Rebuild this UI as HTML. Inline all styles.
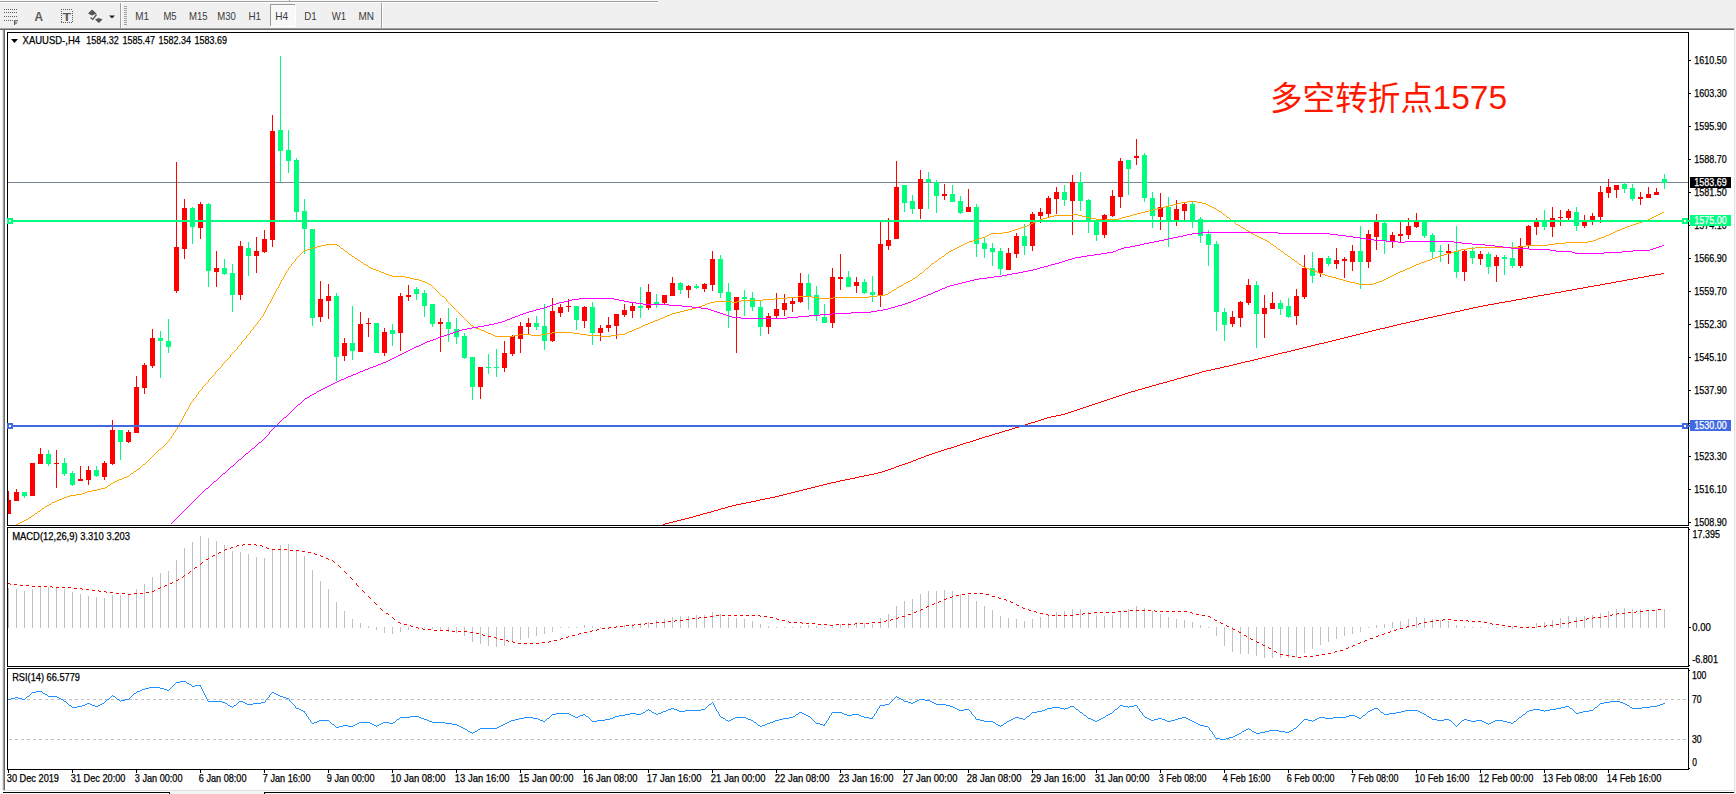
<!DOCTYPE html>
<html lang="zh"><head><meta charset="utf-8"><title>XAUUSD-,H4</title>
<style>html,body{margin:0;padding:0;background:#fff;}body{width:1736px;height:794px;overflow:hidden;}svg{display:block;}text{font-family:"Liberation Sans",sans-serif;}.cjk{font-family:"Liberation Sans","Noto Sans CJK SC",sans-serif;}</style>
</head><body>
<svg width="1736" height="794" viewBox="0 0 1736 794">
<rect x="0" y="0" width="1736" height="794" fill="#ffffff"/>
<g shape-rendering="crispEdges">
<rect x="0" y="0" width="1736" height="28" fill="#f0f0f0"/>
<rect x="0" y="1" width="658" height="1" fill="#a0a0a0"/>
<rect x="0" y="2" width="658" height="1" fill="#ffffff"/><rect x="0" y="0" width="658" height="1" fill="#f8f8f8"/>
<rect x="289" y="0" width="1" height="2" fill="#a0a0a0"/><rect x="290" y="0" width="1" height="1" fill="#ffffff"/>
<rect x="0" y="28" width="1734" height="1" fill="#a0a0a0"/>
<rect x="0" y="29" width="1734" height="1" fill="#696969"/>
<rect x="1734" y="28" width="1" height="766" fill="#e2e2e2"/><rect x="1735" y="28" width="1" height="766" fill="#f4f4f4"/>
<rect x="0" y="30" width="2" height="764" fill="#fefefe"/>
<rect x="2" y="30" width="1" height="760" fill="#e6e6e6"/>
<rect x="3" y="30" width="1" height="761" fill="#a0a0a0"/>
<rect x="4" y="30" width="1" height="761" fill="#696969"/>
<rect x="120" y="3" width="1" height="25" fill="#a0a0a0"/><rect x="121" y="3" width="1" height="25" fill="#ffffff"/>
<rect x="381" y="3" width="1" height="25" fill="#a0a0a0"/><rect x="382" y="3" width="1" height="25" fill="#ffffff"/>
<rect x="124" y="6" width="3" height="1" fill="#a0a0a0"/>
<rect x="124" y="8" width="3" height="1" fill="#a0a0a0"/>
<rect x="124" y="10" width="3" height="1" fill="#a0a0a0"/>
<rect x="124" y="12" width="3" height="1" fill="#a0a0a0"/>
<rect x="124" y="14" width="3" height="1" fill="#a0a0a0"/>
<rect x="124" y="16" width="3" height="1" fill="#a0a0a0"/>
<rect x="124" y="18" width="3" height="1" fill="#a0a0a0"/>
<rect x="124" y="20" width="3" height="1" fill="#a0a0a0"/>
<rect x="124" y="22" width="3" height="1" fill="#a0a0a0"/>
<rect x="124" y="24" width="3" height="1" fill="#a0a0a0"/>
<rect x="271" y="5" width="24" height="21" fill="#f8f8f8"/>
<rect x="270" y="4" width="25" height="1" fill="#9a9a9a"/><rect x="270" y="4" width="1" height="22" fill="#9a9a9a"/>
<rect x="295" y="4" width="1" height="23" fill="#ffffff"/><rect x="270" y="26" width="26" height="1" fill="#ffffff"/>
<rect x="4" y="9" width="1" height="1" fill="#606060"/>
<rect x="6" y="9" width="1" height="1" fill="#606060"/>
<rect x="8" y="9" width="1" height="1" fill="#606060"/>
<rect x="10" y="9" width="1" height="1" fill="#606060"/>
<rect x="12" y="9" width="1" height="1" fill="#606060"/>
<rect x="14" y="9" width="1" height="1" fill="#606060"/>
<rect x="16" y="9" width="1" height="1" fill="#606060"/>
<rect x="4" y="12" width="1" height="1" fill="#606060"/>
<rect x="6" y="12" width="1" height="1" fill="#606060"/>
<rect x="8" y="12" width="1" height="1" fill="#606060"/>
<rect x="10" y="12" width="1" height="1" fill="#606060"/>
<rect x="12" y="12" width="1" height="1" fill="#606060"/>
<rect x="14" y="12" width="1" height="1" fill="#606060"/>
<rect x="16" y="12" width="1" height="1" fill="#606060"/>
<rect x="4" y="16" width="1" height="1" fill="#606060"/>
<rect x="6" y="16" width="1" height="1" fill="#606060"/>
<rect x="8" y="16" width="1" height="1" fill="#606060"/>
<rect x="10" y="16" width="1" height="1" fill="#606060"/>
<rect x="12" y="16" width="1" height="1" fill="#606060"/>
<rect x="14" y="16" width="1" height="1" fill="#606060"/>
<rect x="16" y="16" width="1" height="1" fill="#606060"/>
<rect x="4" y="20" width="1" height="1" fill="#606060"/>
<rect x="6" y="20" width="1" height="1" fill="#606060"/>
<rect x="8" y="20" width="1" height="1" fill="#606060"/>
<rect x="10" y="20" width="1" height="1" fill="#606060"/>
<rect x="12" y="20" width="1" height="1" fill="#606060"/>
<path d="M14.6 25V20.8H18M14.6 23H17.2" stroke="#505050" stroke-width="1.1" fill="none" shape-rendering="geometricPrecision"/>
<rect x="61" y="9" width="1" height="1" fill="#606060"/><rect x="61" y="22" width="1" height="1" fill="#606060"/>
<rect x="63" y="9" width="1" height="1" fill="#606060"/><rect x="63" y="22" width="1" height="1" fill="#606060"/>
<rect x="65" y="9" width="1" height="1" fill="#606060"/><rect x="65" y="22" width="1" height="1" fill="#606060"/>
<rect x="67" y="9" width="1" height="1" fill="#606060"/><rect x="67" y="22" width="1" height="1" fill="#606060"/>
<rect x="69" y="9" width="1" height="1" fill="#606060"/><rect x="69" y="22" width="1" height="1" fill="#606060"/>
<rect x="71" y="9" width="1" height="1" fill="#606060"/><rect x="71" y="22" width="1" height="1" fill="#606060"/>
<rect x="61" y="11" width="1" height="1" fill="#606060"/><rect x="72" y="11" width="1" height="1" fill="#606060"/>
<rect x="61" y="13" width="1" height="1" fill="#606060"/><rect x="72" y="13" width="1" height="1" fill="#606060"/>
<rect x="61" y="15" width="1" height="1" fill="#606060"/><rect x="72" y="15" width="1" height="1" fill="#606060"/>
<rect x="61" y="17" width="1" height="1" fill="#606060"/><rect x="72" y="17" width="1" height="1" fill="#606060"/>
<rect x="61" y="19" width="1" height="1" fill="#606060"/><rect x="72" y="19" width="1" height="1" fill="#606060"/>
<rect x="61" y="21" width="1" height="1" fill="#606060"/><rect x="72" y="21" width="1" height="1" fill="#606060"/>
</g>
<text x="34.5" y="21" font-size="12.5" font-weight="bold" fill="#5a5a5a" textLength="8.5" lengthAdjust="spacingAndGlyphs">A</text>
<text x="62.6" y="21" font-size="11.5" font-weight="bold" fill="#5a5a5a" textLength="8.6" lengthAdjust="spacingAndGlyphs">T</text>
<g fill="#555555" stroke="none"><path d="M88 13.5L92 9.5L96.5 13.5L92 15.5Z"/><path d="M95 19.5L98.8 23L102.5 19.5L98.8 18Z"/></g>
<path d="M90.5 17.5L92.8 19.3L96.5 14.5" stroke="#555555" stroke-width="1.3" fill="none"/>
<path d="M109 15.5H115L112 18.5Z" fill="#202020"/>
<text x="135.2" y="20" font-size="10.2" fill="#3c3c3c" textLength="13.8" lengthAdjust="spacingAndGlyphs">M1</text>
<text x="163.4" y="20" font-size="10.2" fill="#3c3c3c" textLength="13.2" lengthAdjust="spacingAndGlyphs">M5</text>
<text x="189.1" y="20" font-size="10.2" fill="#3c3c3c" textLength="18.6" lengthAdjust="spacingAndGlyphs">M15</text>
<text x="217.3" y="20" font-size="10.2" fill="#3c3c3c" textLength="18.6" lengthAdjust="spacingAndGlyphs">M30</text>
<text x="248.4" y="20" font-size="10.2" fill="#3c3c3c" textLength="12.6" lengthAdjust="spacingAndGlyphs">H1</text>
<text x="275.2" y="20" font-size="10.2" fill="#3c3c3c" textLength="12.9" lengthAdjust="spacingAndGlyphs">H4</text>
<text x="304.2" y="20" font-size="10.2" fill="#3c3c3c" textLength="12.4" lengthAdjust="spacingAndGlyphs">D1</text>
<text x="331.7" y="20" font-size="10.2" fill="#3c3c3c" textLength="14.3" lengthAdjust="spacingAndGlyphs">W1</text>
<text x="358.5" y="20" font-size="10.2" fill="#3c3c3c" textLength="15.5" lengthAdjust="spacingAndGlyphs">MN</text>
<g shape-rendering="crispEdges">
<rect x="7" y="32" width="1" height="738" fill="#000"/>
<rect x="1688" y="32" width="1" height="738" fill="#000"/>
<rect x="7" y="32" width="1682" height="1" fill="#000"/>
<rect x="7" y="525" width="1682" height="1" fill="#000"/>
<rect x="7" y="527" width="1682" height="1" fill="#000"/>
<rect x="7" y="666" width="1682" height="1" fill="#000"/>
<rect x="7" y="668" width="1682" height="1" fill="#000"/>
<rect x="7" y="769" width="1682" height="1" fill="#000"/>
<rect x="3" y="790" width="1731" height="1" fill="#e0e0e0"/>
<rect x="3" y="792" width="167" height="1" fill="#000"/><rect x="169" y="792" width="1" height="2" fill="#000"/>
<rect x="264" y="792" width="1470" height="1" fill="#000"/><rect x="264" y="792" width="1" height="2" fill="#000"/>
<rect x="170" y="791" width="94" height="3" fill="#f4f4f4"/>
</g>
<defs><clipPath id="cm"><rect x="8" y="33" width="1680" height="492"/></clipPath></defs>
<g shape-rendering="crispEdges" clip-path="url(#cm)">
<rect x="8" y="182" width="1680" height="1" fill="#778899"/>
<path fill="#00ff7f" d="M24 492h1v6h-1zM22 492h5v4h-5zM48 450h1v16h-1zM46 454h5v10h-5zM64 458h1v18h-1zM62 463h5v11h-5zM72 471h1v15h-1zM70 473h5v12h-5zM96 466h1v11h-1zM94 470h5v6h-5zM120 430h1v30h-1zM118 430h5v12h-5zM160 331h1v47h-1zM158 338h5v3h-5zM168 319h1v34h-1zM166 341h5v6h-5zM192 207h1v37h-1zM190 208h5v19h-5zM208 203h1v84h-1zM206 204h5v67h-5zM224 259h1v16h-1zM222 268h5v6h-5zM232 264h1v48h-1zM230 273h5v22h-5zM248 242h1v34h-1zM246 248h5v8h-5zM280 56h1v126h-1zM278 130h5v21h-5zM288 130h1v43h-1zM286 150h5v11h-5zM296 158h1v62h-1zM294 160h5v52h-5zM304 199h1v55h-1zM302 211h5v18h-5zM312 229h1v97h-1zM310 229h5v89h-5zM336 293h1v88h-1zM334 296h5v61h-5zM352 306h1v54h-1zM350 343h5v8h-5zM376 323h1v30h-1zM374 323h5v30h-5zM392 324h1v22h-1zM390 330h5v4h-5zM416 287h1v13h-1zM414 289h5v5h-5zM424 290h1v27h-1zM422 293h5v13h-5zM432 304h1v23h-1zM430 304h5v20h-5zM448 308h1v34h-1zM446 322h5v7h-5zM456 318h1v26h-1zM454 329h5v8h-5zM464 333h1v26h-1zM462 336h5v22h-5zM472 357h1v43h-1zM470 357h5v30h-5zM488 354h1v20h-1zM486 367h5v1h-5zM496 349h1v28h-1zM494 367h5v1h-5zM536 316h1v14h-1zM534 323h5v4h-5zM544 304h1v46h-1zM542 326h5v15h-5zM576 306h1v24h-1zM574 306h5v14h-5zM592 302h1v43h-1zM590 307h5v26h-5zM640 287h1v31h-1zM638 306h5v2h-5zM656 294h1v14h-1zM654 302h5v2h-5zM680 282h1v12h-1zM678 283h5v7h-5zM696 284h1v5h-1zM694 286h5v2h-5zM720 255h1v43h-1zM718 259h5v34h-5zM728 283h1v45h-1zM726 292h5v19h-5zM744 290h1v26h-1zM742 297h5v2h-5zM752 292h1v19h-1zM750 298h5v9h-5zM760 300h1v36h-1zM758 307h5v20h-5zM808 274h1v36h-1zM806 283h5v13h-5zM816 286h1v35h-1zM814 295h5v21h-5zM824 304h1v19h-1zM822 317h5v6h-5zM848 271h1v16h-1zM846 277h5v10h-5zM864 279h1v15h-1zM862 282h5v11h-5zM872 276h1v26h-1zM870 292h5v3h-5zM904 185h1v27h-1zM902 185h5v18h-5zM912 195h1v19h-1zM910 201h5v8h-5zM928 172h1v37h-1zM926 179h5v3h-5zM936 180h1v33h-1zM934 182h5v14h-5zM952 185h1v17h-1zM950 194h5v8h-5zM960 196h1v18h-1zM958 201h5v12h-5zM976 204h1v53h-1zM974 207h5v37h-5zM984 238h1v20h-1zM982 243h5v6h-5zM992 243h1v23h-1zM990 248h5v4h-5zM1000 248h1v27h-1zM998 251h5v18h-5zM1024 224h1v31h-1zM1022 236h5v10h-5zM1064 185h1v21h-1zM1062 192h5v8h-5zM1080 172h1v39h-1zM1078 182h5v19h-5zM1088 199h1v34h-1zM1086 200h5v21h-5zM1096 219h1v22h-1zM1094 221h5v14h-5zM1128 160h1v35h-1zM1126 160h5v9h-5zM1144 153h1v49h-1zM1142 155h5v43h-5zM1152 192h1v36h-1zM1150 198h5v18h-5zM1168 197h1v50h-1zM1166 207h5v14h-5zM1192 202h1v26h-1zM1190 204h5v17h-5zM1200 217h1v26h-1zM1198 219h5v17h-5zM1208 230h1v36h-1zM1206 234h5v11h-5zM1216 241h1v90h-1zM1214 244h5v68h-5zM1224 308h1v33h-1zM1222 312h5v13h-5zM1256 281h1v67h-1zM1254 285h5v29h-5zM1280 300h1v15h-1zM1278 303h5v6h-5zM1288 298h1v20h-1zM1286 306h5v11h-5zM1312 252h1v31h-1zM1310 268h5v8h-5zM1328 256h1v10h-1zM1326 258h5v6h-5zM1360 226h1v63h-1zM1358 251h5v11h-5zM1384 221h1v33h-1zM1382 223h5v18h-5zM1424 221h1v17h-1zM1422 222h5v14h-5zM1432 233h1v25h-1zM1430 235h5v17h-5zM1440 245h1v17h-1zM1438 251h5v1h-5zM1456 226h1v52h-1zM1454 251h5v21h-5zM1472 247h1v17h-1zM1470 251h5v7h-5zM1488 252h1v22h-1zM1486 254h5v13h-5zM1504 255h1v20h-1zM1502 257h5v2h-5zM1512 242h1v26h-1zM1510 258h5v8h-5zM1544 210h1v20h-1zM1542 222h5v5h-5zM1576 207h1v24h-1zM1574 212h5v14h-5zM1624 182h1v11h-1zM1622 184h5v5h-5zM1632 184h1v17h-1zM1630 188h5v11h-5zM1664 174h1v15h-1zM1662 179h5v4h-5z"/>
<path fill="#ff0000" d="M8 491h1v23h-1zM6 500h5v14h-5zM16 489h1v12h-1zM14 492h5v9h-5zM32 463h1v33h-1zM30 463h5v33h-5zM40 448h1v16h-1zM38 454h5v10h-5zM56 450h1v38h-1zM54 463h5v1h-5zM80 466h1v15h-1zM78 479h5v2h-5zM88 466h1v19h-1zM86 470h5v10h-5zM104 461h1v19h-1zM102 463h5v14h-5zM112 420h1v45h-1zM110 430h5v34h-5zM128 430h1v13h-1zM126 432h5v10h-5zM136 376h1v57h-1zM134 387h5v46h-5zM144 363h1v31h-1zM142 365h5v23h-5zM152 329h1v39h-1zM150 338h5v28h-5zM176 162h1v131h-1zM174 247h5v44h-5zM184 199h1v60h-1zM182 208h5v41h-5zM200 202h1v37h-1zM198 204h5v24h-5zM216 251h1v36h-1zM214 268h5v4h-5zM240 241h1v59h-1zM238 246h5v49h-5zM256 237h1v36h-1zM254 251h5v5h-5zM264 230h1v23h-1zM262 239h5v13h-5zM272 115h1v132h-1zM270 131h5v109h-5zM320 281h1v41h-1zM318 299h5v18h-5zM328 284h1v35h-1zM326 296h5v5h-5zM344 338h1v23h-1zM342 343h5v13h-5zM360 312h1v40h-1zM358 324h5v28h-5zM368 318h1v19h-1zM366 323h5v1h-5zM384 328h1v28h-1zM382 332h5v21h-5zM400 293h1v58h-1zM398 296h5v37h-5zM408 285h1v16h-1zM406 295h5v2h-5zM440 318h1v34h-1zM438 322h5v2h-5zM480 367h1v32h-1zM478 367h5v20h-5zM504 341h1v31h-1zM502 353h5v15h-5zM512 335h1v21h-1zM510 336h5v18h-5zM520 322h1v31h-1zM518 326h5v13h-5zM528 318h1v16h-1zM526 323h5v4h-5zM552 298h1v44h-1zM550 311h5v30h-5zM560 304h1v13h-1zM558 307h5v6h-5zM568 299h1v13h-1zM566 306h5v1h-5zM584 306h1v22h-1zM582 307h5v14h-5zM600 325h1v16h-1zM598 328h5v5h-5zM608 317h1v15h-1zM606 325h5v3h-5zM616 314h1v25h-1zM614 314h5v12h-5zM624 304h1v13h-1zM622 310h5v5h-5zM632 303h1v15h-1zM630 306h5v5h-5zM648 284h1v26h-1zM646 292h5v16h-5zM664 295h1v10h-1zM662 295h5v8h-5zM672 277h1v19h-1zM670 283h5v13h-5zM688 285h1v13h-1zM686 286h5v4h-5zM704 283h1v9h-1zM702 284h5v5h-5zM712 251h1v40h-1zM710 259h5v26h-5zM736 297h1v56h-1zM734 297h5v13h-5zM768 313h1v21h-1zM766 316h5v11h-5zM776 293h1v26h-1zM774 309h5v7h-5zM784 294h1v22h-1zM782 303h5v7h-5zM792 297h1v15h-1zM790 301h5v3h-5zM800 273h1v30h-1zM798 283h5v19h-5zM832 268h1v60h-1zM830 277h5v46h-5zM840 254h1v36h-1zM838 277h5v2h-5zM856 277h1v16h-1zM854 282h5v4h-5zM880 222h1v85h-1zM878 244h5v51h-5zM888 218h1v32h-1zM886 240h5v6h-5zM896 161h1v78h-1zM894 187h5v52h-5zM920 170h1v49h-1zM918 179h5v30h-5zM944 184h1v16h-1zM942 194h5v2h-5zM968 189h1v23h-1zM966 207h5v5h-5zM1008 248h1v22h-1zM1006 253h5v17h-5zM1016 233h1v25h-1zM1014 236h5v18h-5zM1032 212h1v39h-1zM1030 214h5v32h-5zM1040 208h1v15h-1zM1038 212h5v4h-5zM1048 196h1v22h-1zM1046 198h5v16h-5zM1056 187h1v27h-1zM1054 192h5v7h-5zM1072 175h1v60h-1zM1070 182h5v19h-5zM1104 214h1v24h-1zM1102 215h5v20h-5zM1112 190h1v27h-1zM1110 196h5v20h-5zM1120 158h1v50h-1zM1118 161h5v36h-5zM1136 139h1v26h-1zM1134 156h5v2h-5zM1160 193h1v37h-1zM1158 207h5v10h-5zM1176 200h1v26h-1zM1174 209h5v11h-5zM1184 202h1v18h-1zM1182 204h5v7h-5zM1232 311h1v16h-1zM1230 317h5v7h-5zM1240 301h1v26h-1zM1238 302h5v16h-5zM1248 279h1v26h-1zM1246 285h5v18h-5zM1264 295h1v43h-1zM1262 308h5v6h-5zM1272 292h1v17h-1zM1270 303h5v6h-5zM1296 289h1v36h-1zM1294 296h5v20h-5zM1304 255h1v44h-1zM1302 268h5v29h-5zM1320 258h1v19h-1zM1318 258h5v15h-5zM1336 248h1v21h-1zM1334 260h5v4h-5zM1344 257h1v21h-1zM1342 259h5v2h-5zM1352 245h1v26h-1zM1350 251h5v11h-5zM1368 230h1v38h-1zM1366 234h5v28h-5zM1376 214h1v36h-1zM1374 222h5v15h-5zM1392 232h1v16h-1zM1390 235h5v7h-5zM1400 222h1v20h-1zM1398 234h5v2h-5zM1408 218h1v21h-1zM1406 226h5v9h-5zM1416 213h1v15h-1zM1414 222h5v5h-5zM1448 244h1v20h-1zM1446 251h5v2h-5zM1464 250h1v31h-1zM1462 251h5v21h-5zM1480 251h1v14h-1zM1478 254h5v5h-5zM1496 255h1v27h-1zM1494 257h5v9h-5zM1520 238h1v30h-1zM1518 246h5v20h-5zM1528 225h1v24h-1zM1526 226h5v20h-5zM1536 218h1v17h-1zM1534 222h5v5h-5zM1552 207h1v30h-1zM1550 218h5v9h-5zM1560 210h1v16h-1zM1558 217h5v1h-5zM1568 209h1v11h-1zM1566 211h5v7h-5zM1584 215h1v13h-1zM1582 222h5v4h-5zM1592 213h1v12h-1zM1590 216h5v5h-5zM1600 186h1v37h-1zM1598 192h5v25h-5zM1608 179h1v19h-1zM1606 187h5v6h-5zM1616 185h1v13h-1zM1614 185h5v5h-5zM1640 192h1v13h-1zM1638 197h5v2h-5zM1648 187h1v11h-1zM1646 194h5v4h-5zM1656 188h1v7h-1zM1654 192h5v3h-5z"/>
<path fill="#ffa500" d="M16 524h2v1h-2zM18 523h2v1h-2zM20 522h2v1h-2zM22 521h2v1h-2zM24 520h2v1h-2zM26 519h2v1h-2zM28 518h1v1h-1zM29 517h2v1h-2zM31 516h1v1h-1zM32 515h2v1h-2zM34 514h1v1h-1zM35 513h2v1h-2zM37 512h1v1h-1zM38 511h2v1h-2zM40 510h1v1h-1zM41 509h1v1h-1zM42 508h2v1h-2zM44 507h1v1h-1zM45 506h2v1h-2zM47 505h2v1h-2zM49 504h2v1h-2zM51 503h1v1h-1zM52 502h3v1h-3zM55 501h2v1h-2zM57 500h2v1h-2zM59 499h3v1h-3zM62 498h2v1h-2zM64 497h3v1h-3zM67 496h3v1h-3zM70 495h6v1h-6zM76 494h6v1h-6zM82 493h3v1h-3zM85 492h2v1h-2zM87 491h5v1h-5zM92 490h5v1h-5zM97 489h4v1h-4zM101 488h4v1h-4zM105 487h2v1h-2zM107 486h1v1h-1zM108 485h2v1h-2zM110 484h1v1h-1zM111 483h2v1h-2zM113 482h2v1h-2zM115 481h2v1h-2zM117 480h2v1h-2zM119 479h3v1h-3zM122 478h2v1h-2zM124 477h3v1h-3zM127 476h2v1h-2zM129 475h1v1h-1zM130 474h1v1h-1zM131 473h2v1h-2zM133 472h1v1h-1zM134 471h2v1h-2zM136 470h1v1h-1zM137 469h2v1h-2zM139 468h1v1h-1zM140 467h1v1h-1zM141 466h1v1h-1zM142 465h1v1h-1zM143 464h2v1h-2zM145 463h1v1h-1zM146 462h1v1h-1zM147 461h1v1h-1zM148 460h1v1h-1zM149 459h1v1h-1zM150 458h1v1h-1zM151 457h1v1h-1zM152 456h1v1h-1zM153 455h1v1h-1zM154 454h1v1h-1zM155 453h1v1h-1zM156 452h1v1h-1zM157 451h1v1h-1zM158 450h1v1h-1zM159 449h2v1h-2zM161 448h1v1h-1zM162 447h1v1h-1zM163 446h1v1h-1zM164 445h1v1h-1zM165 444h1v1h-1zM166 443h1v1h-1zM167 442h1v1h-1zM168 441h1v1h-1zM169 439h1v2h-1zM170 438h1v1h-1zM171 436h1v2h-1zM172 435h1v1h-1zM173 433h1v2h-1zM174 432h1v1h-1zM175 430h1v2h-1zM176 429h1v1h-1zM177 427h1v2h-1zM178 425h1v2h-1zM179 423h1v2h-1zM180 422h1v1h-1zM181 420h1v2h-1zM182 418h1v2h-1zM183 416h1v2h-1zM184 414h1v2h-1zM185 412h1v2h-1zM186 411h1v1h-1zM187 409h1v2h-1zM188 407h1v2h-1zM189 405h1v2h-1zM190 403h1v2h-1zM191 402h1v1h-1zM192 401h1v1h-1zM193 399h1v2h-1zM194 398h1v1h-1zM195 397h1v1h-1zM196 395h1v2h-1zM197 394h1v1h-1zM198 392h1v2h-1zM199 391h1v1h-1zM200 390h1v1h-1zM201 389h1v1h-1zM202 387h1v2h-1zM203 386h1v1h-1zM204 385h1v1h-1zM205 384h1v1h-1zM206 383h1v1h-1zM207 382h1v1h-1zM208 380h1v2h-1zM209 379h1v1h-1zM210 378h1v1h-1zM211 377h1v1h-1zM212 376h1v1h-1zM213 375h1v1h-1zM214 374h1v1h-1zM215 372h1v2h-1zM216 371h1v1h-1zM217 370h1v1h-1zM218 369h1v1h-1zM219 368h1v1h-1zM220 367h1v1h-1zM221 366h1v1h-1zM222 364h1v2h-1zM223 363h1v1h-1zM224 362h1v1h-1zM225 361h1v1h-1zM226 360h1v1h-1zM227 359h1v1h-1zM228 358h1v1h-1zM229 357h1v1h-1zM230 355h1v2h-1zM231 354h1v1h-1zM232 353h1v1h-1zM233 352h1v1h-1zM234 351h1v1h-1zM235 350h1v1h-1zM236 349h1v1h-1zM237 347h1v2h-1zM238 346h1v1h-1zM239 345h1v1h-1zM240 344h1v1h-1zM241 342h1v2h-1zM242 341h1v1h-1zM243 340h1v1h-1zM244 339h1v1h-1zM245 338h1v1h-1zM246 336h1v2h-1zM247 335h1v1h-1zM248 334h1v1h-1zM249 333h1v1h-1zM250 331h1v2h-1zM251 330h1v1h-1zM252 329h1v1h-1zM253 327h1v2h-1zM254 326h1v1h-1zM255 325h1v1h-1zM256 324h1v1h-1zM257 322h1v2h-1zM258 321h1v1h-1zM259 320h1v1h-1zM260 318h1v2h-1zM261 317h1v1h-1zM262 316h1v1h-1zM263 314h1v2h-1zM264 312h1v2h-1zM265 310h1v2h-1zM266 308h1v2h-1zM267 306h1v2h-1zM268 304h1v2h-1zM269 303h1v1h-1zM270 301h1v2h-1zM271 299h1v2h-1zM272 297h1v2h-1zM273 295h1v2h-1zM274 293h1v2h-1zM275 291h1v2h-1zM276 289h1v2h-1zM277 288h1v1h-1zM278 286h1v2h-1zM279 284h1v2h-1zM280 282h1v2h-1zM281 280h1v2h-1zM282 279h1v1h-1zM283 277h1v2h-1zM284 275h1v2h-1zM285 273h1v2h-1zM286 271h1v2h-1zM287 270h1v1h-1zM288 268h1v2h-1zM289 267h1v1h-1zM290 266h1v1h-1zM291 264h1v2h-1zM292 263h1v1h-1zM293 262h1v1h-1zM294 261h1v1h-1zM295 259h1v2h-1zM296 258h1v1h-1zM297 257h1v1h-1zM298 256h1v1h-1zM299 255h1v1h-1zM300 254h1v1h-1zM301 253h1v1h-1zM302 252h1v1h-1zM303 251h1v1h-1zM304 250h3v1h-3zM307 249h3v1h-3zM310 248h3v1h-3zM313 247h4v1h-4zM317 246h4v1h-4zM321 245h5v1h-5zM326 244h11v1h-11zM337 245h2v1h-2zM339 246h1v1h-1zM340 247h1v1h-1zM341 248h2v1h-2zM343 249h1v1h-1zM344 250h1v1h-1zM345 251h2v1h-2zM347 252h1v1h-1zM348 253h1v1h-1zM349 254h2v1h-2zM351 255h1v1h-1zM352 256h2v1h-2zM354 257h1v1h-1zM355 258h2v1h-2zM357 259h1v1h-1zM358 260h2v1h-2zM360 261h1v1h-1zM361 262h2v1h-2zM363 263h1v1h-1zM364 264h2v1h-2zM366 265h2v1h-2zM368 266h1v1h-1zM369 267h2v1h-2zM371 268h2v1h-2zM373 269h3v1h-3zM376 270h3v1h-3zM379 271h2v1h-2zM381 272h3v1h-3zM384 273h2v1h-2zM386 274h3v1h-3zM389 275h3v1h-3zM392 276h13v1h-13zM405 277h5v1h-5zM410 278h4v1h-4zM414 279h5v1h-5zM419 280h3v1h-3zM422 281h3v1h-3zM425 282h2v1h-2zM427 283h2v1h-2zM429 284h2v1h-2zM431 285h1v1h-1zM432 286h1v1h-1zM433 287h1v1h-1zM434 288h1v1h-1zM435 289h1v1h-1zM436 290h1v1h-1zM437 291h1v1h-1zM438 292h1v1h-1zM439 293h1v1h-1zM440 294h1v1h-1zM441 295h1v1h-1zM442 296h2v1h-2zM444 297h1v1h-1zM445 298h1v1h-1zM446 299h1v2h-1zM447 301h1v1h-1zM448 302h1v1h-1zM449 303h1v1h-1zM450 304h1v1h-1zM451 305h1v1h-1zM452 306h1v1h-1zM453 307h1v1h-1zM454 308h1v1h-1zM455 309h1v1h-1zM456 310h1v1h-1zM457 311h1v1h-1zM458 312h1v1h-1zM459 313h1v1h-1zM460 314h1v1h-1zM461 315h1v1h-1zM462 316h1v1h-1zM463 317h1v1h-1zM464 318h1v1h-1zM465 319h1v1h-1zM466 320h1v1h-1zM467 321h1v1h-1zM468 322h1v1h-1zM469 323h1v1h-1zM470 324h1v1h-1zM471 325h2v1h-2zM473 326h1v1h-1zM474 327h2v1h-2zM476 328h3v1h-3zM479 329h2v1h-2zM481 330h3v1h-3zM484 331h2v1h-2zM486 332h2v1h-2zM488 333h3v1h-3zM491 334h2v1h-2zM493 335h2v1h-2zM495 336h19v1h-19zM514 335h5v1h-5zM519 334h12v1h-12zM531 335h10v1h-10zM541 334h5v1h-5zM546 333h6v1h-6zM552 332h21v1h-21zM573 333h7v1h-7zM580 334h7v1h-7zM587 335h13v1h-13zM600 336h11v1h-11zM611 335h7v1h-7zM618 334h7v1h-7zM625 333h2v1h-2zM627 332h2v1h-2zM629 331h3v1h-3zM632 330h2v1h-2zM634 329h2v1h-2zM636 328h3v1h-3zM639 327h2v1h-2zM641 326h2v1h-2zM643 325h2v1h-2zM645 324h3v1h-3zM648 323h2v1h-2zM650 322h3v1h-3zM653 321h2v1h-2zM655 320h3v1h-3zM658 319h2v1h-2zM660 318h3v1h-3zM663 317h2v1h-2zM665 316h2v1h-2zM667 315h3v1h-3zM670 314h2v1h-2zM672 313h4v1h-4zM676 312h4v1h-4zM680 311h4v1h-4zM684 310h4v1h-4zM688 309h4v1h-4zM692 308h4v1h-4zM696 307h3v1h-3zM699 306h3v1h-3zM702 305h3v1h-3zM705 304h2v1h-2zM707 303h3v1h-3zM710 302h5v1h-5zM715 301h17v1h-17zM732 302h5v1h-5zM737 301h4v1h-4zM741 300h22v1h-22zM763 299h12v1h-12zM775 298h12v1h-12zM787 297h11v1h-11zM798 296h14v1h-14zM812 297h7v1h-7zM819 298h14v1h-14zM833 297h36v1h-36zM869 296h8v1h-8zM877 295h8v1h-8zM885 294h3v1h-3zM888 293h1v1h-1zM889 292h2v1h-2zM891 291h1v1h-1zM892 290h2v1h-2zM894 289h2v1h-2zM896 288h1v1h-1zM897 287h2v1h-2zM899 286h2v1h-2zM901 285h2v1h-2zM903 284h1v1h-1zM904 283h2v1h-2zM906 282h2v1h-2zM908 281h2v1h-2zM910 280h2v1h-2zM912 279h1v1h-1zM913 278h2v1h-2zM915 277h2v1h-2zM917 276h1v1h-1zM918 275h1v1h-1zM919 274h1v1h-1zM920 273h2v1h-2zM922 272h1v1h-1zM923 271h1v1h-1zM924 270h1v1h-1zM925 269h1v1h-1zM926 268h2v1h-2zM928 267h1v1h-1zM929 266h1v1h-1zM930 265h1v1h-1zM931 264h1v1h-1zM932 263h2v1h-2zM934 262h1v1h-1zM935 261h2v1h-2zM937 260h1v1h-1zM938 259h1v1h-1zM939 258h2v1h-2zM941 257h1v1h-1zM942 256h2v1h-2zM944 255h1v1h-1zM945 254h1v1h-1zM946 253h2v1h-2zM948 252h1v1h-1zM949 251h2v1h-2zM951 250h2v1h-2zM953 249h2v1h-2zM955 248h2v1h-2zM957 247h2v1h-2zM959 246h2v1h-2zM961 245h2v1h-2zM963 244h2v1h-2zM965 243h2v1h-2zM967 242h2v1h-2zM969 241h4v1h-4zM973 240h3v1h-3zM976 239h3v1h-3zM979 238h3v1h-3zM982 237h3v1h-3zM985 236h2v1h-2zM987 235h2v1h-2zM989 234h2v1h-2zM991 233h12v1h-12zM1003 232h6v1h-6zM1009 231h3v1h-3zM1012 230h3v1h-3zM1015 229h3v1h-3zM1018 228h3v1h-3zM1021 227h3v1h-3zM1024 226h3v1h-3zM1027 225h2v1h-2zM1029 224h2v1h-2zM1031 223h2v1h-2zM1033 222h3v1h-3zM1036 221h2v1h-2zM1038 220h2v1h-2zM1040 219h3v1h-3zM1043 218h4v1h-4zM1047 217h3v1h-3zM1050 216h4v1h-4zM1054 215h18v1h-18zM1072 214h6v1h-6zM1078 215h4v1h-4zM1082 216h4v1h-4zM1086 217h4v1h-4zM1090 218h6v1h-6zM1096 219h6v1h-6zM1102 220h3v1h-3zM1105 219h14v1h-14zM1119 218h3v1h-3zM1122 217h4v1h-4zM1126 216h4v1h-4zM1130 215h3v1h-3zM1133 214h4v1h-4zM1137 213h4v1h-4zM1141 212h4v1h-4zM1145 211h4v1h-4zM1149 210h4v1h-4zM1153 209h4v1h-4zM1157 208h4v1h-4zM1161 207h4v1h-4zM1165 206h4v1h-4zM1169 205h4v1h-4zM1173 204h4v1h-4zM1177 203h4v1h-4zM1181 202h6v1h-6zM1187 201h10v1h-10zM1197 202h5v1h-5zM1202 203h4v1h-4zM1206 204h2v1h-2zM1208 205h2v1h-2zM1210 206h2v1h-2zM1212 207h2v1h-2zM1214 208h2v1h-2zM1216 209h1v1h-1zM1217 210h2v1h-2zM1219 211h2v1h-2zM1221 212h1v1h-1zM1222 213h1v1h-1zM1223 214h2v1h-2zM1225 215h1v1h-1zM1226 216h1v1h-1zM1227 217h2v1h-2zM1229 218h1v1h-1zM1230 219h1v1h-1zM1231 220h1v1h-1zM1232 221h2v1h-2zM1234 222h1v1h-1zM1235 223h1v1h-1zM1236 224h2v1h-2zM1238 225h2v1h-2zM1240 226h1v1h-1zM1241 227h2v1h-2zM1243 228h2v1h-2zM1245 229h1v1h-1zM1246 230h2v1h-2zM1248 231h2v1h-2zM1250 232h1v1h-1zM1251 233h2v1h-2zM1253 234h2v1h-2zM1255 235h2v1h-2zM1257 236h2v1h-2zM1259 237h2v1h-2zM1261 238h2v1h-2zM1263 239h2v1h-2zM1265 240h2v1h-2zM1267 241h2v1h-2zM1269 242h1v1h-1zM1270 243h1v1h-1zM1271 244h2v1h-2zM1273 245h1v1h-1zM1274 246h2v1h-2zM1276 247h1v1h-1zM1277 248h1v1h-1zM1278 249h2v1h-2zM1280 250h1v1h-1zM1281 251h2v1h-2zM1283 252h1v1h-1zM1284 253h1v1h-1zM1285 254h2v1h-2zM1287 255h1v1h-1zM1288 256h2v1h-2zM1290 257h1v1h-1zM1291 258h1v1h-1zM1292 259h2v1h-2zM1294 260h1v1h-1zM1295 261h2v1h-2zM1297 262h1v1h-1zM1298 263h1v1h-1zM1299 264h2v1h-2zM1301 265h1v1h-1zM1302 266h2v1h-2zM1304 267h2v1h-2zM1306 268h3v1h-3zM1309 269h2v1h-2zM1311 270h3v1h-3zM1314 271h3v1h-3zM1317 272h2v1h-2zM1319 273h3v1h-3zM1322 274h3v1h-3zM1325 275h3v1h-3zM1328 276h4v1h-4zM1332 277h4v1h-4zM1336 278h3v1h-3zM1339 279h4v1h-4zM1343 280h3v1h-3zM1346 281h4v1h-4zM1350 282h5v1h-5zM1355 283h4v1h-4zM1359 284h14v1h-14zM1373 283h3v1h-3zM1376 282h3v1h-3zM1379 281h3v1h-3zM1382 280h2v1h-2zM1384 279h2v1h-2zM1386 278h2v1h-2zM1388 277h2v1h-2zM1390 276h2v1h-2zM1392 275h2v1h-2zM1394 274h2v1h-2zM1396 273h2v1h-2zM1398 272h2v1h-2zM1400 271h3v1h-3zM1403 270h2v1h-2zM1405 269h2v1h-2zM1407 268h3v1h-3zM1410 267h2v1h-2zM1412 266h2v1h-2zM1414 265h2v1h-2zM1416 264h3v1h-3zM1419 263h2v1h-2zM1421 262h3v1h-3zM1424 261h3v1h-3zM1427 260h3v1h-3zM1430 259h2v1h-2zM1432 258h3v1h-3zM1435 257h3v1h-3zM1438 256h3v1h-3zM1441 255h3v1h-3zM1444 254h3v1h-3zM1447 253h4v1h-4zM1451 252h3v1h-3zM1454 251h4v1h-4zM1458 250h3v1h-3zM1461 249h6v1h-6zM1467 248h8v1h-8zM1475 247h45v1h-45zM1520 246h6v1h-6zM1526 245h22v1h-22zM1548 244h7v1h-7zM1555 243h10v1h-10zM1565 242h23v1h-23zM1588 241h5v1h-5zM1593 240h3v1h-3zM1596 239h2v1h-2zM1598 238h3v1h-3zM1601 237h3v1h-3zM1604 236h2v1h-2zM1606 235h3v1h-3zM1609 234h2v1h-2zM1611 233h2v1h-2zM1613 232h2v1h-2zM1615 231h2v1h-2zM1617 230h3v1h-3zM1620 229h2v1h-2zM1622 228h3v1h-3zM1625 227h2v1h-2zM1627 226h3v1h-3zM1630 225h3v1h-3zM1633 224h3v1h-3zM1636 223h3v1h-3zM1639 222h3v1h-3zM1642 221h3v1h-3zM1645 220h3v1h-3zM1648 219h2v1h-2zM1650 218h2v1h-2zM1652 217h2v1h-2zM1654 216h2v1h-2zM1656 215h2v1h-2zM1658 214h2v1h-2zM1660 213h2v1h-2zM1662 212h2v1h-2z"/>
<path fill="#ff00ff" d="M171 523h1v1h-1zM172 522h1v1h-1zM173 521h1v1h-1zM174 520h1v1h-1zM175 519h1v1h-1zM176 518h1v1h-1zM177 517h1v1h-1zM178 516h1v1h-1zM179 515h1v1h-1zM180 514h1v1h-1zM181 513h1v1h-1zM182 512h1v1h-1zM183 511h1v1h-1zM184 510h1v1h-1zM185 509h1v1h-1zM186 508h1v1h-1zM187 507h1v1h-1zM188 506h1v1h-1zM189 505h1v1h-1zM190 504h1v1h-1zM191 503h1v1h-1zM192 502h1v1h-1zM193 501h1v1h-1zM194 500h1v1h-1zM195 499h1v1h-1zM196 498h1v1h-1zM197 497h1v1h-1zM198 496h1v1h-1zM199 495h1v1h-1zM200 494h1v1h-1zM201 493h1v1h-1zM202 492h1v1h-1zM203 491h1v1h-1zM204 490h1v1h-1zM205 489h1v1h-1zM206 488h2v1h-2zM208 487h1v1h-1zM209 486h1v1h-1zM210 485h1v1h-1zM211 484h1v1h-1zM212 483h1v1h-1zM213 482h1v1h-1zM214 481h2v1h-2zM216 480h1v1h-1zM217 479h1v1h-1zM218 478h1v1h-1zM219 477h1v1h-1zM220 476h1v1h-1zM221 475h1v1h-1zM222 474h1v1h-1zM223 473h2v1h-2zM225 472h1v1h-1zM226 471h1v1h-1zM227 470h1v1h-1zM228 469h1v1h-1zM229 468h1v1h-1zM230 467h1v1h-1zM231 466h2v1h-2zM233 465h1v1h-1zM234 464h1v1h-1zM235 463h1v1h-1zM236 462h1v1h-1zM237 461h1v1h-1zM238 460h1v1h-1zM239 459h2v1h-2zM241 458h1v1h-1zM242 457h1v1h-1zM243 456h1v1h-1zM244 455h1v1h-1zM245 454h1v1h-1zM246 453h2v1h-2zM248 452h1v1h-1zM249 451h1v1h-1zM250 450h1v1h-1zM251 449h1v1h-1zM252 448h2v1h-2zM254 447h1v1h-1zM255 446h1v1h-1zM256 445h1v1h-1zM257 444h1v1h-1zM258 443h1v1h-1zM259 442h2v1h-2zM261 441h1v1h-1zM262 440h1v1h-1zM263 439h1v1h-1zM264 438h1v1h-1zM265 437h1v1h-1zM266 436h1v1h-1zM267 435h1v1h-1zM268 434h1v1h-1zM269 432h1v2h-1zM270 431h1v1h-1zM271 430h1v1h-1zM272 429h1v1h-1zM273 428h1v1h-1zM274 427h1v1h-1zM275 426h1v1h-1zM276 425h1v1h-1zM277 424h1v1h-1zM278 423h1v1h-1zM279 422h1v1h-1zM280 421h1v1h-1zM281 420h1v1h-1zM282 419h1v1h-1zM283 418h1v1h-1zM284 417h2v1h-2zM286 416h1v1h-1zM287 415h1v1h-1zM288 414h1v1h-1zM289 413h1v1h-1zM290 412h1v1h-1zM291 411h1v1h-1zM292 410h1v1h-1zM293 409h1v1h-1zM294 408h1v1h-1zM295 407h1v1h-1zM296 406h1v1h-1zM297 405h1v1h-1zM298 404h2v1h-2zM300 403h1v1h-1zM301 402h1v1h-1zM302 401h1v1h-1zM303 400h1v1h-1zM304 399h1v1h-1zM305 398h2v1h-2zM307 397h2v1h-2zM309 396h1v1h-1zM310 395h2v1h-2zM312 394h2v1h-2zM314 393h2v1h-2zM316 392h1v1h-1zM317 391h2v1h-2zM319 390h2v1h-2zM321 389h2v1h-2zM323 388h2v1h-2zM325 387h2v1h-2zM327 386h2v1h-2zM329 385h2v1h-2zM331 384h2v1h-2zM333 383h2v1h-2zM335 382h2v1h-2zM337 381h2v1h-2zM339 380h2v1h-2zM341 379h3v1h-3zM344 378h2v1h-2zM346 377h2v1h-2zM348 376h3v1h-3zM351 375h2v1h-2zM353 374h3v1h-3zM356 373h2v1h-2zM358 372h2v1h-2zM360 371h3v1h-3zM363 370h2v1h-2zM365 369h3v1h-3zM368 368h2v1h-2zM370 367h3v1h-3zM373 366h3v1h-3zM376 365h2v1h-2zM378 364h3v1h-3zM381 363h2v1h-2zM383 362h3v1h-3zM386 361h2v1h-2zM388 360h2v1h-2zM390 359h2v1h-2zM392 358h2v1h-2zM394 357h2v1h-2zM396 356h2v1h-2zM398 355h2v1h-2zM400 354h2v1h-2zM402 353h2v1h-2zM404 352h2v1h-2zM406 351h2v1h-2zM408 350h2v1h-2zM410 349h2v1h-2zM412 348h2v1h-2zM414 347h2v1h-2zM416 346h3v1h-3zM419 345h2v1h-2zM421 344h2v1h-2zM423 343h2v1h-2zM425 342h2v1h-2zM427 341h3v1h-3zM430 340h3v1h-3zM433 339h3v1h-3zM436 338h2v1h-2zM438 337h3v1h-3zM441 336h3v1h-3zM444 335h3v1h-3zM447 334h3v1h-3zM450 333h3v1h-3zM453 332h3v1h-3zM456 331h3v1h-3zM459 330h3v1h-3zM462 329h5v1h-5zM467 328h5v1h-5zM472 327h6v1h-6zM478 326h6v1h-6zM484 325h5v1h-5zM489 324h5v1h-5zM494 323h4v1h-4zM498 322h4v1h-4zM502 321h3v1h-3zM505 320h2v1h-2zM507 319h3v1h-3zM510 318h2v1h-2zM512 317h3v1h-3zM515 316h3v1h-3zM518 315h2v1h-2zM520 314h3v1h-3zM523 313h3v1h-3zM526 312h3v1h-3zM529 311h4v1h-4zM533 310h3v1h-3zM536 309h4v1h-4zM540 308h4v1h-4zM544 307h3v1h-3zM547 306h3v1h-3zM550 305h3v1h-3zM553 304h3v1h-3zM556 303h3v1h-3zM559 302h5v1h-5zM564 301h4v1h-4zM568 300h4v1h-4zM572 299h7v1h-7zM579 298h35v1h-35zM614 299h5v1h-5zM619 300h5v1h-5zM624 301h5v1h-5zM629 302h7v1h-7zM636 303h7v1h-7zM643 304h26v1h-26zM669 305h13v1h-13zM682 306h10v1h-10zM692 307h9v1h-9zM701 308h7v1h-7zM708 309h3v1h-3zM711 310h3v1h-3zM714 311h3v1h-3zM717 312h3v1h-3zM720 313h3v1h-3zM723 314h3v1h-3zM726 315h3v1h-3zM729 316h3v1h-3zM732 317h9v1h-9zM741 318h46v1h-46zM787 317h11v1h-11zM798 316h11v1h-11zM809 315h11v1h-11zM820 314h12v1h-12zM832 313h19v1h-19zM851 312h20v1h-20zM871 311h6v1h-6zM877 310h6v1h-6zM883 309h5v1h-5zM888 308h3v1h-3zM891 307h4v1h-4zM895 306h3v1h-3zM898 305h4v1h-4zM902 304h3v1h-3zM905 303h3v1h-3zM908 302h3v1h-3zM911 301h2v1h-2zM913 300h3v1h-3zM916 299h2v1h-2zM918 298h3v1h-3zM921 297h2v1h-2zM923 296h3v1h-3zM926 295h2v1h-2zM928 294h3v1h-3zM931 293h2v1h-2zM933 292h2v1h-2zM935 291h3v1h-3zM938 290h2v1h-2zM940 289h2v1h-2zM942 288h3v1h-3zM945 287h2v1h-2zM947 286h3v1h-3zM950 285h4v1h-4zM954 284h4v1h-4zM958 283h4v1h-4zM962 282h4v1h-4zM966 281h4v1h-4zM970 280h4v1h-4zM974 279h5v1h-5zM979 278h8v1h-8zM987 277h7v1h-7zM994 276h8v1h-8zM1002 275h5v1h-5zM1007 274h5v1h-5zM1012 273h6v1h-6zM1018 272h5v1h-5zM1023 271h5v1h-5zM1028 270h5v1h-5zM1033 269h4v1h-4zM1037 268h3v1h-3zM1040 267h4v1h-4zM1044 266h4v1h-4zM1048 265h3v1h-3zM1051 264h4v1h-4zM1055 263h4v1h-4zM1059 262h3v1h-3zM1062 261h3v1h-3zM1065 260h3v1h-3zM1068 259h4v1h-4zM1072 258h3v1h-3zM1075 257h6v1h-6zM1081 256h6v1h-6zM1087 255h7v1h-7zM1094 254h7v1h-7zM1101 253h6v1h-6zM1107 252h6v1h-6zM1113 251h3v1h-3zM1116 250h2v1h-2zM1118 249h3v1h-3zM1121 248h3v1h-3zM1124 247h6v1h-6zM1130 246h5v1h-5zM1135 245h5v1h-5zM1140 244h4v1h-4zM1144 243h5v1h-5zM1149 242h5v1h-5zM1154 241h5v1h-5zM1159 240h5v1h-5zM1164 239h4v1h-4zM1168 238h5v1h-5zM1173 237h5v1h-5zM1178 236h5v1h-5zM1183 235h4v1h-4zM1187 234h5v1h-5zM1192 233h9v1h-9zM1201 232h77v1h-77zM1278 233h52v1h-52zM1330 234h8v1h-8zM1338 235h8v1h-8zM1346 236h7v1h-7zM1353 237h7v1h-7zM1360 238h7v1h-7zM1367 239h7v1h-7zM1374 240h12v1h-12zM1386 241h12v1h-12zM1398 242h7v1h-7zM1405 241h49v1h-49zM1454 242h8v1h-8zM1462 243h10v1h-10zM1472 244h13v1h-13zM1485 245h10v1h-10zM1495 246h8v1h-8zM1503 247h8v1h-8zM1511 248h18v1h-18zM1529 249h21v1h-21zM1550 250h6v1h-6zM1556 251h16v1h-16zM1572 252h3v1h-3zM1575 253h29v1h-29zM1604 252h18v1h-18zM1622 251h11v1h-11zM1633 250h17v1h-17zM1650 249h3v1h-3zM1653 248h3v1h-3zM1656 247h3v1h-3zM1659 246h3v1h-3zM1662 245h2v1h-2z"/>
<path fill="#ff0000" d="M663 524h2v1h-2zM665 523h4v1h-4zM669 522h4v1h-4zM673 521h4v1h-4zM677 520h4v1h-4zM681 519h4v1h-4zM685 518h4v1h-4zM689 517h4v1h-4zM693 516h3v1h-3zM696 515h4v1h-4zM700 514h3v1h-3zM703 513h4v1h-4zM707 512h4v1h-4zM711 511h3v1h-3zM714 510h4v1h-4zM718 509h3v1h-3zM721 508h4v1h-4zM725 507h3v1h-3zM728 506h4v1h-4zM732 505h4v1h-4zM736 504h5v1h-5zM741 503h5v1h-5zM746 502h5v1h-5zM751 501h5v1h-5zM756 500h4v1h-4zM760 499h5v1h-5zM765 498h5v1h-5zM770 497h5v1h-5zM775 496h4v1h-4zM779 495h4v1h-4zM783 494h4v1h-4zM787 493h4v1h-4zM791 492h4v1h-4zM795 491h4v1h-4zM799 490h4v1h-4zM803 489h4v1h-4zM807 488h4v1h-4zM811 487h4v1h-4zM815 486h4v1h-4zM819 485h4v1h-4zM823 484h4v1h-4zM827 483h4v1h-4zM831 482h5v1h-5zM836 481h4v1h-4zM840 480h5v1h-5zM845 479h5v1h-5zM850 478h5v1h-5zM855 477h4v1h-4zM859 476h5v1h-5zM864 475h5v1h-5zM869 474h5v1h-5zM874 473h4v1h-4zM878 472h4v1h-4zM882 471h3v1h-3zM885 470h3v1h-3zM888 469h3v1h-3zM891 468h3v1h-3zM894 467h2v1h-2zM896 466h3v1h-3zM899 465h3v1h-3zM902 464h3v1h-3zM905 463h3v1h-3zM908 462h3v1h-3zM911 461h2v1h-2zM913 460h3v1h-3zM916 459h2v1h-2zM918 458h3v1h-3zM921 457h3v1h-3zM924 456h2v1h-2zM926 455h3v1h-3zM929 454h3v1h-3zM932 453h3v1h-3zM935 452h3v1h-3zM938 451h3v1h-3zM941 450h3v1h-3zM944 449h3v1h-3zM947 448h4v1h-4zM951 447h3v1h-3zM954 446h3v1h-3zM957 445h3v1h-3zM960 444h3v1h-3zM963 443h3v1h-3zM966 442h4v1h-4zM970 441h3v1h-3zM973 440h3v1h-3zM976 439h3v1h-3zM979 438h3v1h-3zM982 437h3v1h-3zM985 436h4v1h-4zM989 435h3v1h-3zM992 434h3v1h-3zM995 433h4v1h-4zM999 432h3v1h-3zM1002 431h3v1h-3zM1005 430h4v1h-4zM1009 429h3v1h-3zM1012 428h3v1h-3zM1015 427h4v1h-4zM1019 426h3v1h-3zM1022 425h3v1h-3zM1025 424h3v1h-3zM1028 423h3v1h-3zM1031 422h4v1h-4zM1035 421h3v1h-3zM1038 420h3v1h-3zM1041 419h3v1h-3zM1044 418h3v1h-3zM1047 417h4v1h-4zM1051 416h5v1h-5zM1056 415h5v1h-5zM1061 414h4v1h-4zM1065 413h3v1h-3zM1068 412h3v1h-3zM1071 411h3v1h-3zM1074 410h3v1h-3zM1077 409h3v1h-3zM1080 408h3v1h-3zM1083 407h3v1h-3zM1086 406h3v1h-3zM1089 405h3v1h-3zM1092 404h3v1h-3zM1095 403h3v1h-3zM1098 402h3v1h-3zM1101 401h3v1h-3zM1104 400h3v1h-3zM1107 399h3v1h-3zM1110 398h3v1h-3zM1113 397h3v1h-3zM1116 396h3v1h-3zM1119 395h3v1h-3zM1122 394h3v1h-3zM1125 393h3v1h-3zM1128 392h3v1h-3zM1131 391h4v1h-4zM1135 390h3v1h-3zM1138 389h4v1h-4zM1142 388h3v1h-3zM1145 387h4v1h-4zM1149 386h3v1h-3zM1152 385h4v1h-4zM1156 384h3v1h-3zM1159 383h4v1h-4zM1163 382h4v1h-4zM1167 381h3v1h-3zM1170 380h4v1h-4zM1174 379h3v1h-3zM1177 378h4v1h-4zM1181 377h3v1h-3zM1184 376h4v1h-4zM1188 375h4v1h-4zM1192 374h3v1h-3zM1195 373h4v1h-4zM1199 372h3v1h-3zM1202 371h4v1h-4zM1206 370h5v1h-5zM1211 369h4v1h-4zM1215 368h5v1h-5zM1220 367h4v1h-4zM1224 366h5v1h-5zM1229 365h4v1h-4zM1233 364h4v1h-4zM1237 363h4v1h-4zM1241 362h4v1h-4zM1245 361h5v1h-5zM1250 360h4v1h-4zM1254 359h4v1h-4zM1258 358h4v1h-4zM1262 357h4v1h-4zM1266 356h4v1h-4zM1270 355h4v1h-4zM1274 354h4v1h-4zM1278 353h4v1h-4zM1282 352h5v1h-5zM1287 351h4v1h-4zM1291 350h4v1h-4zM1295 349h4v1h-4zM1299 348h4v1h-4zM1303 347h4v1h-4zM1307 346h4v1h-4zM1311 345h4v1h-4zM1315 344h4v1h-4zM1319 343h5v1h-5zM1324 342h4v1h-4zM1328 341h4v1h-4zM1332 340h4v1h-4zM1336 339h4v1h-4zM1340 338h4v1h-4zM1344 337h4v1h-4zM1348 336h4v1h-4zM1352 335h4v1h-4zM1356 334h4v1h-4zM1360 333h4v1h-4zM1364 332h4v1h-4zM1368 331h4v1h-4zM1372 330h4v1h-4zM1376 329h4v1h-4zM1380 328h5v1h-5zM1385 327h4v1h-4zM1389 326h4v1h-4zM1393 325h4v1h-4zM1397 324h4v1h-4zM1401 323h5v1h-5zM1406 322h4v1h-4zM1410 321h5v1h-5zM1415 320h4v1h-4zM1419 319h5v1h-5zM1424 318h4v1h-4zM1428 317h5v1h-5zM1433 316h4v1h-4zM1437 315h5v1h-5zM1442 314h4v1h-4zM1446 313h5v1h-5zM1451 312h4v1h-4zM1455 311h5v1h-5zM1460 310h4v1h-4zM1464 309h5v1h-5zM1469 308h4v1h-4zM1473 307h5v1h-5zM1478 306h5v1h-5zM1483 305h5v1h-5zM1488 304h6v1h-6zM1494 303h5v1h-5zM1499 302h6v1h-6zM1505 301h6v1h-6zM1511 300h5v1h-5zM1516 299h6v1h-6zM1522 298h5v1h-5zM1527 297h6v1h-6zM1533 296h5v1h-5zM1538 295h6v1h-6zM1544 294h6v1h-6zM1550 293h5v1h-5zM1555 292h6v1h-6zM1561 291h5v1h-5zM1566 290h6v1h-6zM1572 289h5v1h-5zM1577 288h6v1h-6zM1583 287h5v1h-5zM1588 286h6v1h-6zM1594 285h6v1h-6zM1600 284h5v1h-5zM1605 283h6v1h-6zM1611 282h5v1h-5zM1616 281h6v1h-6zM1622 280h5v1h-5zM1627 279h6v1h-6zM1633 278h5v1h-5zM1638 277h6v1h-6zM1644 276h5v1h-5zM1649 275h6v1h-6zM1655 274h6v1h-6zM1661 273h3v1h-3z"/>
</g>
<g shape-rendering="crispEdges">
<rect x="8" y="220" width="1682" height="2" fill="#00ff7f"/>
<rect x="8" y="425" width="1682" height="2" fill="#4169e1"/>
<rect x="1682" y="218" width="6" height="6" fill="#00ff7f"/><rect x="1684" y="220" width="2" height="2" fill="#fff"/>
<rect x="7" y="218" width="6" height="6" fill="#00ff7f"/><rect x="9" y="220" width="2" height="2" fill="#fff"/>
<rect x="1682" y="423" width="6" height="6" fill="#4169e1"/><rect x="1684" y="425" width="2" height="2" fill="#fff"/>
<rect x="7" y="423" width="6" height="6" fill="#4169e1"/><rect x="9" y="425" width="2" height="2" fill="#fff"/>
</g>
<g shape-rendering="crispEdges">
<path fill="#c0c0c0" d="M8 588h1v40h-1zM16 589h1v39h-1zM24 591h1v37h-1zM32 589h1v39h-1zM40 587h1v41h-1zM48 587h1v41h-1zM56 588h1v40h-1zM64 589h1v39h-1zM72 592h1v36h-1zM80 594h1v34h-1zM88 596h1v32h-1zM96 597h1v31h-1zM104 598h1v30h-1zM112 595h1v33h-1zM120 595h1v33h-1zM128 595h1v33h-1zM136 589h1v39h-1zM144 584h1v44h-1zM152 577h1v51h-1zM160 573h1v55h-1zM168 571h1v57h-1zM176 560h1v68h-1zM184 548h1v80h-1zM192 542h1v86h-1zM200 536h1v92h-1zM208 538h1v90h-1zM216 541h1v87h-1zM224 545h1v83h-1zM232 551h1v77h-1zM240 552h1v76h-1zM248 554h1v74h-1zM256 557h1v71h-1zM264 558h1v70h-1zM272 549h1v79h-1zM280 545h1v83h-1zM288 544h1v84h-1zM296 550h1v78h-1zM304 556h1v72h-1zM312 570h1v58h-1zM320 581h1v47h-1zM328 589h1v39h-1zM336 602h1v26h-1zM344 611h1v17h-1zM352 619h1v9h-1zM360 623h1v5h-1zM368 626h1v2h-1zM376 627h1v3h-1zM384 627h1v6h-1zM392 627h1v7h-1zM400 627h1v5h-1zM408 627h1v3h-1zM416 627h1v1h-1zM424 627h1v1h-1zM432 627h1v2h-1zM440 627h1v3h-1zM448 627h1v5h-1zM456 627h1v6h-1zM464 627h1v9h-1zM472 627h1v15h-1zM480 627h1v17h-1zM488 627h1v19h-1zM496 627h1v20h-1zM504 627h1v19h-1zM512 627h1v15h-1zM520 627h1v13h-1zM528 627h1v11h-1zM536 627h1v9h-1zM544 627h1v7h-1zM552 627h1v5h-1zM560 627h1v1h-1zM568 627h1v1h-1zM576 627h1v1h-1zM584 625h1v3h-1zM592 626h1v2h-1zM600 627h1v1h-1zM608 627h1v1h-1zM616 626h1v2h-1zM624 625h1v3h-1zM632 624h1v4h-1zM640 623h1v5h-1zM648 622h1v6h-1zM656 620h1v8h-1zM664 619h1v9h-1zM672 617h1v11h-1zM680 616h1v12h-1zM688 616h1v12h-1zM696 615h1v13h-1zM704 615h1v13h-1zM712 612h1v16h-1zM720 614h1v14h-1zM728 617h1v11h-1zM736 618h1v10h-1zM744 619h1v9h-1zM752 621h1v7h-1zM760 624h1v4h-1zM768 626h1v2h-1zM776 627h1v1h-1zM784 627h1v1h-1zM792 627h1v1h-1zM800 626h1v2h-1zM808 625h1v3h-1zM816 626h1v2h-1zM824 627h1v1h-1zM832 626h1v2h-1zM840 624h1v4h-1zM848 623h1v5h-1zM856 622h1v6h-1zM864 623h1v5h-1zM872 624h1v4h-1zM880 618h1v10h-1zM888 614h1v14h-1zM896 606h1v22h-1zM904 601h1v27h-1zM912 599h1v29h-1zM920 594h1v34h-1zM928 591h1v37h-1zM936 591h1v37h-1zM944 590h1v38h-1zM952 591h1v37h-1zM960 594h1v34h-1zM968 595h1v33h-1zM976 601h1v27h-1zM984 606h1v22h-1zM992 610h1v18h-1zM1000 616h1v12h-1zM1008 618h1v10h-1zM1016 619h1v9h-1zM1024 621h1v7h-1zM1032 619h1v9h-1zM1040 617h1v11h-1zM1048 615h1v13h-1zM1056 612h1v16h-1zM1064 611h1v17h-1zM1072 609h1v19h-1zM1080 609h1v19h-1zM1088 612h1v16h-1zM1096 615h1v13h-1zM1104 616h1v12h-1zM1112 615h1v13h-1zM1120 611h1v17h-1zM1128 609h1v19h-1zM1136 606h1v22h-1zM1144 608h1v20h-1zM1152 611h1v17h-1zM1160 614h1v14h-1zM1168 617h1v11h-1zM1176 619h1v9h-1zM1184 620h1v8h-1zM1192 622h1v6h-1zM1200 625h1v3h-1zM1208 627h1v1h-1zM1216 627h1v9h-1zM1224 627h1v19h-1zM1232 627h1v25h-1zM1240 627h1v27h-1zM1248 627h1v27h-1zM1256 627h1v29h-1zM1264 627h1v31h-1zM1272 627h1v31h-1zM1280 627h1v31h-1zM1288 627h1v31h-1zM1296 627h1v30h-1zM1304 627h1v26h-1zM1312 627h1v22h-1zM1320 627h1v18h-1zM1328 627h1v15h-1zM1336 627h1v12h-1zM1344 627h1v9h-1zM1352 627h1v7h-1zM1360 627h1v5h-1zM1368 627h1v1h-1zM1376 625h1v3h-1zM1384 624h1v4h-1zM1392 622h1v6h-1zM1400 621h1v7h-1zM1408 619h1v9h-1zM1416 617h1v11h-1zM1424 618h1v10h-1zM1432 619h1v9h-1zM1440 620h1v8h-1zM1448 621h1v7h-1zM1456 625h1v3h-1zM1464 626h1v2h-1zM1472 627h1v1h-1zM1480 627h1v1h-1zM1488 627h1v1h-1zM1496 627h1v1h-1zM1504 627h1v1h-1zM1512 627h1v2h-1zM1520 627h1v1h-1zM1528 626h1v2h-1zM1536 623h1v5h-1zM1544 622h1v6h-1zM1552 620h1v8h-1zM1560 618h1v10h-1zM1568 616h1v12h-1zM1576 617h1v11h-1zM1584 616h1v12h-1zM1592 615h1v13h-1zM1600 613h1v15h-1zM1608 611h1v17h-1zM1616 609h1v19h-1zM1624 608h1v20h-1zM1632 609h1v19h-1zM1640 609h1v19h-1zM1648 610h1v18h-1zM1656 610h1v18h-1zM1664 609h1v19h-1z"/>
<path fill="#ff0000" d="M8 583h2v1h-2zM10 584h1v1h-1zM14 584h3v1h-3zM20 585h3v1h-3zM26 585h3v1h-3zM32 586h3v1h-3zM38 586h3v1h-3zM44 586h3v1h-3zM50 586h2v1h-2zM52 587h1v1h-1zM56 587h3v1h-3zM62 587h3v1h-3zM68 587h3v1h-3zM74 588h3v1h-3zM80 588h2v1h-2zM82 589h1v1h-1zM86 589h3v1h-3zM92 590h3v1h-3zM98 590h1v1h-1zM99 591h2v1h-2zM104 591h2v1h-2zM106 592h1v1h-1zM110 592h3v1h-3zM116 593h3v1h-3zM122 593h3v1h-3zM128 594h3v1h-3zM134 593h3v1h-3zM140 593h3v1h-3zM146 592h3v1h-3zM152 591h2v1h-2zM154 590h1v1h-1zM158 588h2v1h-2zM160 587h1v1h-1zM164 586h1v1h-1zM165 585h2v1h-2zM170 583h2v1h-2zM172 582h1v1h-1zM176 580h2v1h-2zM178 579h1v1h-1zM182 577h1v1h-1zM183 576h1v1h-1zM184 575h1v1h-1zM188 573h1v1h-1zM189 572h1v1h-1zM190 571h1v1h-1zM194 568h1v1h-1zM195 567h2v1h-2zM200 564h1v1h-1zM201 563h1v1h-1zM202 562h1v1h-1zM206 559h2v1h-2zM208 558h1v1h-1zM212 556h1v1h-1zM213 555h2v1h-2zM218 553h1v1h-1zM219 552h2v1h-2zM224 550h1v1h-1zM225 549h2v1h-2zM230 548h1v1h-1zM231 547h2v1h-2zM236 546h1v1h-1zM237 545h2v1h-2zM242 545h1v1h-1zM243 544h2v1h-2zM248 544h3v1h-3zM254 544h2v1h-2zM256 545h1v1h-1zM260 545h2v1h-2zM262 546h1v1h-1zM266 547h1v1h-1zM267 548h2v1h-2zM272 549h3v1h-3zM278 549h3v1h-3zM284 549h3v1h-3zM290 550h3v1h-3zM296 550h3v1h-3zM302 551h3v1h-3zM308 552h3v1h-3zM314 553h1v1h-1zM315 554h2v1h-2zM320 555h1v1h-1zM321 556h2v1h-2zM326 558h2v1h-2zM328 559h1v1h-1zM332 560h1v1h-1zM333 561h1v1h-1zM334 562h1v1h-1zM338 565h1v1h-1zM339 566h1v1h-1zM340 567h1v1h-1zM344 571h1v1h-1zM345 572h1v1h-1zM346 573h1v1h-1zM350 577h1v1h-1zM351 578h1v1h-1zM352 579h1v1h-1zM356 583h1v2h-1zM357 585h1v1h-1zM358 586h1v1h-1zM362 590h1v1h-1zM363 591h1v1h-1zM364 592h1v1h-1zM368 596h1v1h-1zM369 597h1v1h-1zM370 598h1v1h-1zM374 602h1v1h-1zM375 603h1v1h-1zM376 604h1v1h-1zM380 608h1v1h-1zM381 609h1v1h-1zM382 610h1v1h-1zM386 613h2v1h-2zM388 614h1v1h-1zM392 617h1v1h-1zM393 618h1v1h-1zM394 619h1v1h-1zM398 622h2v1h-2zM400 623h1v1h-1zM404 624h3v1h-3zM410 625h1v1h-1zM411 626h2v1h-2zM416 627h2v1h-2zM418 628h1v1h-1zM422 628h1v1h-1zM423 629h2v1h-2zM428 629h3v1h-3zM434 630h3v1h-3zM440 630h3v1h-3zM446 630h3v1h-3zM452 631h3v1h-3zM458 631h3v1h-3zM464 631h3v1h-3zM470 632h3v1h-3zM476 633h3v1h-3zM482 634h1v1h-1zM483 635h2v1h-2zM488 636h3v1h-3zM494 637h2v1h-2zM496 638h1v1h-1zM500 639h3v1h-3zM506 640h2v1h-2zM508 641h1v1h-1zM512 641h1v1h-1zM513 642h2v1h-2zM518 643h3v1h-3zM524 643h3v1h-3zM530 643h3v1h-3zM536 643h3v1h-3zM542 642h3v1h-3zM548 642h1v1h-1zM549 641h2v1h-2zM554 640h3v1h-3zM560 639h1v1h-1zM561 638h2v1h-2zM566 637h2v1h-2zM568 636h1v1h-1zM572 635h3v1h-3zM578 634h1v1h-1zM579 633h2v1h-2zM584 632h3v1h-3zM590 631h2v1h-2zM592 630h1v1h-1zM596 630h1v1h-1zM597 629h2v1h-2zM602 628h3v1h-3zM608 628h1v1h-1zM609 627h2v1h-2zM614 627h2v1h-2zM616 626h1v1h-1zM620 626h3v1h-3zM626 625h3v1h-3zM632 625h2v1h-2zM634 624h1v1h-1zM638 624h3v1h-3zM644 624h1v1h-1zM645 623h2v1h-2zM650 623h3v1h-3zM656 622h3v1h-3zM662 622h3v1h-3zM668 621h3v1h-3zM674 621h1v1h-1zM675 620h2v1h-2zM680 620h3v1h-3zM686 619h3v1h-3zM692 618h3v1h-3zM698 618h1v1h-1zM699 617h2v1h-2zM704 617h3v1h-3zM710 616h3v1h-3zM716 615h3v1h-3zM722 615h3v1h-3zM728 615h3v1h-3zM734 615h3v1h-3zM740 615h3v1h-3zM746 615h3v1h-3zM752 615h3v1h-3zM758 615h2v1h-2zM760 616h1v1h-1zM764 616h3v1h-3zM770 617h3v1h-3zM776 618h1v1h-1zM777 619h2v1h-2zM782 620h3v1h-3zM788 621h1v1h-1zM789 622h2v1h-2zM794 622h3v1h-3zM800 622h2v1h-2zM802 623h1v1h-1zM806 623h3v1h-3zM812 623h3v1h-3zM818 624h3v1h-3zM824 624h3v1h-3zM830 625h3v1h-3zM836 624h3v1h-3zM842 624h3v1h-3zM848 624h3v1h-3zM854 624h1v1h-1zM855 623h2v1h-2zM860 623h3v1h-3zM866 623h3v1h-3zM872 622h3v1h-3zM878 622h3v1h-3zM884 621h2v1h-2zM886 620h1v1h-1zM890 620h1v1h-1zM891 619h2v1h-2zM896 618h2v1h-2zM898 617h1v1h-1zM902 616h3v1h-3zM908 614h3v1h-3zM914 612h2v1h-2zM916 611h1v1h-1zM920 610h1v1h-1zM921 609h2v1h-2zM926 607h1v1h-1zM927 606h2v1h-2zM932 604h2v1h-2zM934 603h1v1h-1zM938 602h1v1h-1zM939 601h2v1h-2zM944 599h2v1h-2zM946 598h1v1h-1zM950 597h2v1h-2zM952 596h1v1h-1zM956 595h3v1h-3zM962 594h3v1h-3zM968 593h3v1h-3zM974 593h3v1h-3zM980 593h3v1h-3zM986 594h3v1h-3zM992 596h3v1h-3zM998 597h1v1h-1zM999 598h2v1h-2zM1004 599h2v1h-2zM1006 600h1v1h-1zM1010 601h1v1h-1zM1011 602h2v1h-2zM1016 604h1v1h-1zM1017 605h2v1h-2zM1022 607h1v1h-1zM1023 608h2v1h-2zM1028 609h1v1h-1zM1029 610h2v1h-2zM1034 611h2v1h-2zM1036 612h1v1h-1zM1040 613h3v1h-3zM1046 614h2v1h-2zM1048 615h1v1h-1zM1052 615h3v1h-3zM1058 615h3v1h-3zM1064 615h3v1h-3zM1070 615h3v1h-3zM1076 614h3v1h-3zM1082 614h1v1h-1zM1083 613h2v1h-2zM1088 613h3v1h-3zM1094 612h3v1h-3zM1100 612h3v1h-3zM1106 612h3v1h-3zM1112 612h3v1h-3zM1118 611h3v1h-3zM1124 611h3v1h-3zM1130 610h3v1h-3zM1136 610h3v1h-3zM1142 610h3v1h-3zM1148 610h3v1h-3zM1154 610h1v1h-1zM1155 611h2v1h-2zM1160 611h3v1h-3zM1166 611h3v1h-3zM1172 611h3v1h-3zM1178 611h3v1h-3zM1184 611h3v1h-3zM1190 612h2v1h-2zM1192 613h1v1h-1zM1196 614h3v1h-3zM1202 615h3v1h-3zM1208 616h2v1h-2zM1210 617h1v1h-1zM1214 619h1v1h-1zM1215 620h2v1h-2zM1220 622h1v1h-1zM1221 623h2v1h-2zM1226 625h1v1h-1zM1227 626h2v1h-2zM1232 628h1v1h-1zM1233 629h2v1h-2zM1238 631h1v1h-1zM1239 632h2v1h-2zM1244 635h2v1h-2zM1246 636h1v1h-1zM1250 638h1v1h-1zM1251 639h2v1h-2zM1256 641h1v1h-1zM1257 642h2v1h-2zM1262 644h1v1h-1zM1263 645h2v1h-2zM1268 647h1v1h-1zM1269 648h2v1h-2zM1274 651h2v1h-2zM1276 652h1v1h-1zM1280 654h3v1h-3zM1286 655h3v1h-3zM1292 656h3v1h-3zM1298 657h3v1h-3zM1304 656h3v1h-3zM1310 656h3v1h-3zM1316 655h3v1h-3zM1322 654h3v1h-3zM1328 653h3v1h-3zM1334 652h1v1h-1zM1335 651h2v1h-2zM1340 650h3v1h-3zM1346 648h2v1h-2zM1348 647h1v1h-1zM1352 646h1v1h-1zM1353 645h2v1h-2zM1358 643h2v1h-2zM1360 642h1v1h-1zM1364 641h1v1h-1zM1365 640h2v1h-2zM1370 638h3v1h-3zM1376 636h2v1h-2zM1378 635h1v1h-1zM1382 634h2v1h-2zM1384 633h1v1h-1zM1388 632h2v1h-2zM1390 631h1v1h-1zM1394 630h2v1h-2zM1396 629h1v1h-1zM1400 628h3v1h-3zM1406 627h1v1h-1zM1407 626h2v1h-2zM1412 625h3v1h-3zM1418 624h1v1h-1zM1419 623h2v1h-2zM1424 622h3v1h-3zM1430 621h3v1h-3zM1436 620h3v1h-3zM1442 620h1v1h-1zM1443 619h2v1h-2zM1448 619h3v1h-3zM1454 620h3v1h-3zM1460 620h3v1h-3zM1466 620h2v1h-2zM1468 621h1v1h-1zM1472 621h3v1h-3zM1478 621h3v1h-3zM1484 622h3v1h-3zM1490 623h2v1h-2zM1492 624h1v1h-1zM1496 624h3v1h-3zM1502 625h3v1h-3zM1508 626h3v1h-3zM1514 626h3v1h-3zM1520 627h3v1h-3zM1526 627h3v1h-3zM1532 627h3v1h-3zM1538 626h3v1h-3zM1544 626h2v1h-2zM1546 625h1v1h-1zM1550 625h3v1h-3zM1556 624h3v1h-3zM1562 623h3v1h-3zM1568 623h1v1h-1zM1569 622h2v1h-2zM1574 621h3v1h-3zM1580 620h3v1h-3zM1586 619h1v1h-1zM1587 618h2v1h-2zM1592 618h1v1h-1zM1593 617h2v1h-2zM1598 617h3v1h-3zM1604 616h3v1h-3zM1610 615h2v1h-2zM1612 614h1v1h-1zM1616 614h1v1h-1zM1617 613h2v1h-2zM1622 613h3v1h-3zM1628 612h3v1h-3zM1634 612h2v1h-2zM1636 611h1v1h-1zM1640 611h3v1h-3zM1646 610h3v1h-3zM1652 610h3v1h-3zM1658 609h3v1h-3z"/>
<line x1="9" y1="699.5" x2="1686" y2="699.5" stroke="#c0c0c0" stroke-width="1" stroke-dasharray="3 3"/>
<line x1="9" y1="739.5" x2="1686" y2="739.5" stroke="#c0c0c0" stroke-width="1" stroke-dasharray="3 3"/>
<path fill="#1e90ff" d="M8 699h3v1h-3zM11 698h4v1h-4zM15 697h3v1h-3zM18 698h4v1h-4zM22 699h3v1h-3zM25 698h1v1h-1zM26 697h1v1h-1zM27 696h2v1h-2zM29 695h1v1h-1zM30 694h1v1h-1zM31 693h1v1h-1zM32 692h4v1h-4zM36 691h6v1h-6zM42 692h1v1h-1zM43 693h2v1h-2zM45 694h2v1h-2zM47 695h1v1h-1zM48 696h9v1h-9zM57 697h2v1h-2zM59 698h2v1h-2zM61 699h2v1h-2zM63 700h1v1h-1zM64 701h2v1h-2zM66 702h1v1h-1zM67 703h1v1h-1zM68 704h1v1h-1zM69 705h2v1h-2zM71 706h1v1h-1zM72 707h5v1h-5zM77 706h5v1h-5zM82 705h3v1h-3zM85 704h2v1h-2zM87 703h3v1h-3zM90 704h2v1h-2zM92 705h3v1h-3zM95 706h3v1h-3zM98 705h2v1h-2zM100 704h2v1h-2zM102 703h2v1h-2zM104 702h1v1h-1zM105 701h1v1h-1zM106 700h1v1h-1zM107 699h2v1h-2zM109 698h1v1h-1zM110 697h1v1h-1zM111 696h1v1h-1zM112 695h1v1h-1zM113 696h2v1h-2zM115 697h1v1h-1zM116 698h1v1h-1zM117 699h2v1h-2zM119 700h1v1h-1zM120 701h1v1h-1zM121 700h4v1h-4zM125 699h4v1h-4zM129 698h1v1h-1zM130 697h1v1h-1zM131 696h1v1h-1zM132 695h1v1h-1zM133 694h1v1h-1zM134 693h2v1h-2zM136 692h1v1h-1zM137 691h3v1h-3zM140 690h2v1h-2zM142 689h3v1h-3zM145 688h4v1h-4zM149 687h11v1h-11zM160 688h4v1h-4zM164 689h3v1h-3zM167 690h2v1h-2zM169 689h1v1h-1zM170 688h1v1h-1zM171 687h1v1h-1zM172 686h1v1h-1zM173 685h1v1h-1zM174 684h1v1h-1zM175 683h1v1h-1zM176 682h4v1h-4zM180 681h6v1h-6zM186 682h1v1h-1zM187 683h2v1h-2zM189 684h2v1h-2zM191 685h1v1h-1zM192 686h3v1h-3zM195 685h5v1h-5zM200 685h1v2h-1zM201 687h1v2h-1zM202 689h1v2h-1zM203 691h1v2h-1zM204 693h1v2h-1zM205 695h1v2h-1zM206 697h1v2h-1zM207 699h1v2h-1zM208 701h14v1h-14zM222 702h3v1h-3zM225 703h2v1h-2zM227 704h1v1h-1zM228 705h2v1h-2zM230 706h2v1h-2zM232 707h1v1h-1zM233 706h1v1h-1zM234 705h2v1h-2zM236 704h1v1h-1zM237 703h1v1h-1zM238 702h1v1h-1zM239 701h4v1h-4zM243 702h2v1h-2zM245 703h2v1h-2zM247 704h6v1h-6zM253 703h8v1h-8zM261 702h4v1h-4zM265 700h1v2h-1zM266 699h1v1h-1zM267 698h1v1h-1zM268 697h1v1h-1zM269 695h1v2h-1zM270 694h1v1h-1zM271 693h1v1h-1zM272 692h2v1h-2zM274 693h2v1h-2zM276 694h2v1h-2zM278 695h2v1h-2zM280 696h3v1h-3zM283 697h3v1h-3zM286 698h3v1h-3zM289 699h1v2h-1zM290 701h1v1h-1zM291 702h1v1h-1zM292 703h1v1h-1zM293 704h1v1h-1zM294 705h1v1h-1zM295 706h1v2h-1zM296 708h3v1h-3zM299 709h2v1h-2zM301 710h2v1h-2zM303 711h1v1h-1zM304 711h1v2h-1zM305 713h1v1h-1zM306 714h1v2h-1zM307 716h1v1h-1zM308 717h1v2h-1zM309 719h1v1h-1zM310 720h1v2h-1zM311 722h1v1h-1zM312 723h2v1h-2zM314 722h3v1h-3zM317 721h2v1h-2zM319 720h10v1h-10zM329 721h1v1h-1zM330 722h1v1h-1zM331 723h1v1h-1zM332 724h2v1h-2zM334 725h1v1h-1zM335 726h1v1h-1zM336 727h3v1h-3zM339 726h4v1h-4zM343 725h5v1h-5zM348 726h5v1h-5zM353 725h2v1h-2zM355 724h2v1h-2zM357 723h2v1h-2zM359 722h11v1h-11zM370 723h2v1h-2zM372 724h2v1h-2zM374 725h2v1h-2zM376 726h1v1h-1zM377 725h2v1h-2zM379 724h2v1h-2zM381 723h2v1h-2zM383 722h6v1h-6zM389 723h4v1h-4zM393 722h2v1h-2zM395 721h1v1h-1zM396 720h1v1h-1zM397 719h2v1h-2zM399 718h1v1h-1zM400 717h10v1h-10zM410 716h9v1h-9zM419 717h2v1h-2zM421 718h3v1h-3zM424 719h3v1h-3zM427 720h2v1h-2zM429 721h3v1h-3zM432 722h13v1h-13zM445 723h7v1h-7zM452 724h5v1h-5zM457 725h2v1h-2zM459 726h2v1h-2zM461 727h2v1h-2zM463 728h2v1h-2zM465 729h2v1h-2zM467 730h1v1h-1zM468 731h2v1h-2zM470 732h2v1h-2zM472 733h1v1h-1zM473 732h2v1h-2zM475 731h2v1h-2zM477 730h1v1h-1zM478 729h2v1h-2zM480 728h17v1h-17zM497 727h2v1h-2zM499 726h2v1h-2zM501 725h2v1h-2zM503 724h2v1h-2zM505 723h2v1h-2zM507 722h2v1h-2zM509 721h2v1h-2zM511 720h4v1h-4zM515 719h4v1h-4zM519 718h5v1h-5zM524 717h9v1h-9zM533 718h5v1h-5zM538 719h2v1h-2zM540 720h3v1h-3zM543 721h2v1h-2zM545 720h1v1h-1zM546 719h1v1h-1zM547 718h2v1h-2zM549 717h1v1h-1zM550 716h1v1h-1zM551 715h1v1h-1zM552 714h4v1h-4zM556 713h13v1h-13zM569 714h2v1h-2zM571 715h2v1h-2zM573 716h2v1h-2zM575 717h3v1h-3zM578 716h2v1h-2zM580 715h3v1h-3zM583 714h2v1h-2zM585 715h1v1h-1zM586 716h2v1h-2zM588 717h1v1h-1zM589 718h1v1h-1zM590 719h1v1h-1zM591 720h1v1h-1zM592 721h5v1h-5zM597 720h8v1h-8zM605 719h5v1h-5zM610 718h3v1h-3zM613 717h2v1h-2zM615 716h4v1h-4zM619 715h6v1h-6zM625 714h5v1h-5zM630 713h6v1h-6zM636 714h5v1h-5zM641 713h2v1h-2zM643 712h2v1h-2zM645 711h1v1h-1zM646 710h2v1h-2zM648 709h1v1h-1zM649 710h2v1h-2zM651 711h1v1h-1zM652 712h2v1h-2zM654 713h2v1h-2zM656 714h2v1h-2zM658 713h3v1h-3zM661 712h2v1h-2zM663 711h3v1h-3zM666 710h2v1h-2zM668 709h3v1h-3zM671 708h3v1h-3zM674 709h3v1h-3zM677 710h2v1h-2zM679 711h6v1h-6zM685 710h16v1h-16zM701 709h4v1h-4zM705 708h1v1h-1zM706 707h1v1h-1zM707 706h1v1h-1zM708 705h1v1h-1zM709 704h2v1h-2zM711 703h1v1h-1zM712 702h1v1h-1zM713 703h1v2h-1zM714 705h1v2h-1zM715 707h1v2h-1zM716 709h1v2h-1zM717 711h1v1h-1zM718 712h1v2h-1zM719 714h1v2h-1zM720 716h1v1h-1zM721 717h2v1h-2zM723 718h2v1h-2zM725 719h1v1h-1zM726 720h2v1h-2zM728 721h1v1h-1zM729 720h2v1h-2zM731 719h2v1h-2zM733 718h2v1h-2zM735 717h11v1h-11zM746 718h2v1h-2zM748 719h3v1h-3zM751 720h2v1h-2zM753 721h1v1h-1zM754 722h2v1h-2zM756 723h1v1h-1zM757 724h1v1h-1zM758 725h2v1h-2zM760 726h2v1h-2zM762 725h3v1h-3zM765 724h2v1h-2zM767 723h3v1h-3zM770 722h3v1h-3zM773 721h2v1h-2zM775 720h4v1h-4zM779 719h4v1h-4zM783 718h6v1h-6zM789 717h4v1h-4zM793 716h2v1h-2zM795 715h1v1h-1zM796 714h2v1h-2zM798 713h1v1h-1zM799 712h3v1h-3zM802 713h2v1h-2zM804 714h2v1h-2zM806 715h2v1h-2zM808 716h2v1h-2zM810 717h1v1h-1zM811 718h1v1h-1zM812 719h1v1h-1zM813 720h1v1h-1zM814 721h1v1h-1zM815 722h1v1h-1zM816 723h4v1h-4zM820 724h3v1h-3zM823 725h1v1h-1zM824 724h1v2h-1zM825 723h1v1h-1zM826 721h1v2h-1zM827 720h1v1h-1zM828 718h1v2h-1zM829 716h1v2h-1zM830 715h1v1h-1zM831 713h1v2h-1zM832 712h10v1h-10zM842 713h2v1h-2zM844 714h3v1h-3zM847 715h5v1h-5zM852 714h7v1h-7zM859 715h2v1h-2zM861 716h3v1h-3zM864 717h5v1h-5zM869 718h3v1h-3zM872 717h1v2h-1zM873 716h1v1h-1zM874 714h1v2h-1zM875 713h1v1h-1zM876 711h1v2h-1zM877 709h1v2h-1zM878 708h1v1h-1zM879 706h1v2h-1zM880 705h5v1h-5zM885 704h4v1h-4zM889 703h1v1h-1zM890 702h1v1h-1zM891 701h1v1h-1zM892 700h1v1h-1zM893 699h1v1h-1zM894 698h1v1h-1zM895 697h1v1h-1zM896 696h1v1h-1zM897 697h2v1h-2zM899 698h2v1h-2zM901 699h2v1h-2zM903 700h1v1h-1zM904 701h4v1h-4zM908 702h3v1h-3zM911 703h2v1h-2zM913 702h2v1h-2zM915 701h2v1h-2zM917 700h2v1h-2zM919 699h6v1h-6zM925 700h5v1h-5zM930 701h2v1h-2zM932 702h2v1h-2zM934 703h2v1h-2zM936 704h10v1h-10zM946 705h4v1h-4zM950 706h3v1h-3zM953 707h2v1h-2zM955 708h2v1h-2zM957 709h2v1h-2zM959 710h5v1h-5zM964 709h5v1h-5zM969 710h1v1h-1zM970 711h1v1h-1zM971 712h1v2h-1zM972 714h1v1h-1zM973 715h1v1h-1zM974 716h1v1h-1zM975 717h1v2h-1zM976 719h4v1h-4zM980 720h4v1h-4zM984 721h9v1h-9zM993 722h2v1h-2zM995 723h1v1h-1zM996 724h2v1h-2zM998 725h2v1h-2zM1000 726h1v1h-1zM1001 725h2v1h-2zM1003 724h1v1h-1zM1004 723h2v1h-2zM1006 722h1v1h-1zM1007 721h2v1h-2zM1009 720h2v1h-2zM1011 719h2v1h-2zM1013 718h2v1h-2zM1015 717h4v1h-4zM1019 718h4v1h-4zM1023 719h2v1h-2zM1025 718h1v1h-1zM1026 717h1v1h-1zM1027 716h2v1h-2zM1029 715h1v1h-1zM1030 714h1v1h-1zM1031 713h1v1h-1zM1032 712h5v1h-5zM1037 711h5v1h-5zM1042 710h3v1h-3zM1045 709h2v1h-2zM1047 708h5v1h-5zM1052 707h8v1h-8zM1060 708h4v1h-4zM1064 709h1v1h-1zM1065 708h3v1h-3zM1068 707h2v1h-2zM1070 706h4v1h-4zM1074 707h1v1h-1zM1075 708h1v1h-1zM1076 709h2v1h-2zM1078 710h1v1h-1zM1079 711h1v1h-1zM1080 712h2v1h-2zM1082 713h1v1h-1zM1083 714h1v1h-1zM1084 715h2v1h-2zM1086 716h1v1h-1zM1087 717h1v1h-1zM1088 718h3v1h-3zM1091 719h2v1h-2zM1093 720h2v1h-2zM1095 721h2v1h-2zM1097 720h2v1h-2zM1099 719h2v1h-2zM1101 718h2v1h-2zM1103 717h2v1h-2zM1105 716h1v1h-1zM1106 715h2v1h-2zM1108 714h2v1h-2zM1110 713h2v1h-2zM1112 712h1v1h-1zM1113 711h1v1h-1zM1114 710h1v1h-1zM1115 709h2v1h-2zM1117 708h1v1h-1zM1118 707h1v1h-1zM1119 706h1v1h-1zM1120 705h3v1h-3zM1123 706h5v1h-5zM1128 707h1v1h-1zM1129 706h5v1h-5zM1134 705h3v1h-3zM1137 706h1v2h-1zM1138 708h1v1h-1zM1139 709h1v2h-1zM1140 711h1v1h-1zM1141 712h1v1h-1zM1142 713h1v2h-1zM1143 715h1v1h-1zM1144 716h1v1h-1zM1145 717h2v1h-2zM1147 718h2v1h-2zM1149 719h2v1h-2zM1151 720h3v1h-3zM1154 719h4v1h-4zM1158 718h4v1h-4zM1162 719h3v1h-3zM1165 720h2v1h-2zM1167 721h4v1h-4zM1171 720h4v1h-4zM1175 719h3v1h-3zM1178 718h4v1h-4zM1182 717h4v1h-4zM1186 718h2v1h-2zM1188 719h2v1h-2zM1190 720h2v1h-2zM1192 721h2v1h-2zM1194 722h2v1h-2zM1196 723h2v1h-2zM1198 724h2v1h-2zM1200 725h4v1h-4zM1204 726h4v1h-4zM1208 727h1v1h-1zM1209 728h1v2h-1zM1210 730h1v1h-1zM1211 731h1v1h-1zM1212 732h1v2h-1zM1213 734h1v1h-1zM1214 735h1v2h-1zM1215 737h1v1h-1zM1216 738h4v1h-4zM1220 739h6v1h-6zM1226 738h3v1h-3zM1229 737h4v1h-4zM1233 736h2v1h-2zM1235 735h2v1h-2zM1237 734h2v1h-2zM1239 733h2v1h-2zM1241 732h1v1h-1zM1242 731h2v1h-2zM1244 730h2v1h-2zM1246 729h2v1h-2zM1248 728h1v1h-1zM1249 729h2v1h-2zM1251 730h1v1h-1zM1252 731h2v1h-2zM1254 732h2v1h-2zM1256 733h4v1h-4zM1260 732h5v1h-5zM1265 731h4v1h-4zM1269 730h10v1h-10zM1279 731h6v1h-6zM1285 732h4v1h-4zM1289 731h2v1h-2zM1291 730h2v1h-2zM1293 729h1v1h-1zM1294 728h2v1h-2zM1296 727h1v1h-1zM1297 726h1v1h-1zM1298 725h1v1h-1zM1299 724h1v1h-1zM1300 723h1v1h-1zM1301 722h1v1h-1zM1302 721h1v1h-1zM1303 720h1v1h-1zM1304 719h4v1h-4zM1308 720h4v1h-4zM1312 721h1v1h-1zM1313 720h2v1h-2zM1315 719h2v1h-2zM1317 718h2v1h-2zM1319 717h6v1h-6zM1325 718h8v1h-8zM1333 717h13v1h-13zM1346 716h3v1h-3zM1349 715h6v1h-6zM1355 716h2v1h-2zM1357 717h2v1h-2zM1359 718h2v1h-2zM1361 717h1v1h-1zM1362 716h1v1h-1zM1363 715h2v1h-2zM1365 714h1v1h-1zM1366 713h1v1h-1zM1367 712h1v1h-1zM1368 711h2v1h-2zM1370 710h2v1h-2zM1372 709h2v1h-2zM1374 708h4v1h-4zM1378 709h1v1h-1zM1379 710h1v1h-1zM1380 711h1v1h-1zM1381 712h2v1h-2zM1383 713h1v1h-1zM1384 714h5v1h-5zM1389 713h7v1h-7zM1396 712h5v1h-5zM1401 711h4v1h-4zM1405 710h13v1h-13zM1418 711h2v1h-2zM1420 712h2v1h-2zM1422 713h2v1h-2zM1424 714h2v1h-2zM1426 715h1v1h-1zM1427 716h2v1h-2zM1429 717h2v1h-2zM1431 718h1v1h-1zM1432 719h5v1h-5zM1437 720h7v1h-7zM1444 719h5v1h-5zM1449 720h2v1h-2zM1451 721h1v1h-1zM1452 722h1v1h-1zM1453 723h1v1h-1zM1454 724h1v1h-1zM1455 725h1v1h-1zM1456 726h1v1h-1zM1457 725h1v1h-1zM1458 724h1v1h-1zM1459 723h1v1h-1zM1460 722h1v1h-1zM1461 721h1v1h-1zM1462 720h2v1h-2zM1464 719h3v1h-3zM1467 720h4v1h-4zM1471 721h5v1h-5zM1476 720h6v1h-6zM1482 721h2v1h-2zM1484 722h2v1h-2zM1486 723h2v1h-2zM1488 724h1v1h-1zM1489 723h2v1h-2zM1491 722h2v1h-2zM1493 721h2v1h-2zM1495 720h8v1h-8zM1503 721h4v1h-4zM1507 722h4v1h-4zM1511 723h2v1h-2zM1513 722h1v1h-1zM1514 721h2v1h-2zM1516 720h1v1h-1zM1517 719h1v1h-1zM1518 718h1v1h-1zM1519 717h2v1h-2zM1521 716h1v1h-1zM1522 715h1v1h-1zM1523 714h2v1h-2zM1525 713h1v1h-1zM1526 712h1v1h-1zM1527 711h2v1h-2zM1529 710h4v1h-4zM1533 709h7v1h-7zM1540 710h4v1h-4zM1544 711h1v1h-1zM1545 710h5v1h-5zM1550 709h6v1h-6zM1556 708h5v1h-5zM1561 707h4v1h-4zM1565 706h4v1h-4zM1569 707h1v1h-1zM1570 708h2v1h-2zM1572 709h1v1h-1zM1573 710h1v1h-1zM1574 711h1v1h-1zM1575 712h1v1h-1zM1576 713h3v1h-3zM1579 712h4v1h-4zM1583 711h6v1h-6zM1589 710h4v1h-4zM1593 709h1v1h-1zM1594 708h1v1h-1zM1595 707h2v1h-2zM1597 706h1v1h-1zM1598 705h1v1h-1zM1599 704h1v1h-1zM1600 703h4v1h-4zM1604 702h6v1h-6zM1610 701h10v1h-10zM1620 702h3v1h-3zM1623 703h2v1h-2zM1625 704h2v1h-2zM1627 705h2v1h-2zM1629 706h1v1h-1zM1630 707h2v1h-2zM1632 708h10v1h-10zM1642 707h8v1h-8zM1650 706h7v1h-7zM1657 705h3v1h-3zM1660 704h3v1h-3zM1663 703h2v1h-2z"/>
<rect x="1689" y="522" width="2" height="1" fill="#000"/>
<rect x="1689" y="489" width="2" height="1" fill="#000"/>
<rect x="1689" y="456" width="2" height="1" fill="#000"/>
<rect x="1689" y="423" width="2" height="1" fill="#000"/>
<rect x="1689" y="390" width="2" height="1" fill="#000"/>
<rect x="1689" y="357" width="2" height="1" fill="#000"/>
<rect x="1689" y="324" width="2" height="1" fill="#000"/>
<rect x="1689" y="291" width="2" height="1" fill="#000"/>
<rect x="1689" y="258" width="2" height="1" fill="#000"/>
<rect x="1689" y="225" width="2" height="1" fill="#000"/>
<rect x="1689" y="192" width="2" height="1" fill="#000"/>
<rect x="1689" y="159" width="2" height="1" fill="#000"/>
<rect x="1689" y="126" width="2" height="1" fill="#000"/>
<rect x="1689" y="93" width="2" height="1" fill="#000"/>
<rect x="1689" y="60" width="2" height="1" fill="#000"/>
<rect x="1689" y="627" width="2" height="1" fill="#000"/>
<rect x="1689" y="529" width="1" height="1" fill="#000"/>
<rect x="1689" y="665" width="1" height="1" fill="#000"/>
<rect x="1689" y="670" width="1" height="1" fill="#000"/>
<rect x="1689" y="768" width="1" height="1" fill="#000"/>
<rect x="7" y="526" width="1682" height="1" fill="#fff"/><rect x="7" y="667" width="1682" height="1" fill="#fff"/>
<rect x="8" y="770" width="1" height="3" fill="#000"/>
<rect x="72" y="770" width="1" height="3" fill="#000"/>
<rect x="136" y="770" width="1" height="3" fill="#000"/>
<rect x="200" y="770" width="1" height="3" fill="#000"/>
<rect x="264" y="770" width="1" height="3" fill="#000"/>
<rect x="328" y="770" width="1" height="3" fill="#000"/>
<rect x="392" y="770" width="1" height="3" fill="#000"/>
<rect x="456" y="770" width="1" height="3" fill="#000"/>
<rect x="520" y="770" width="1" height="3" fill="#000"/>
<rect x="584" y="770" width="1" height="3" fill="#000"/>
<rect x="648" y="770" width="1" height="3" fill="#000"/>
<rect x="712" y="770" width="1" height="3" fill="#000"/>
<rect x="776" y="770" width="1" height="3" fill="#000"/>
<rect x="840" y="770" width="1" height="3" fill="#000"/>
<rect x="904" y="770" width="1" height="3" fill="#000"/>
<rect x="968" y="770" width="1" height="3" fill="#000"/>
<rect x="1032" y="770" width="1" height="3" fill="#000"/>
<rect x="1096" y="770" width="1" height="3" fill="#000"/>
<rect x="1160" y="770" width="1" height="3" fill="#000"/>
<rect x="1224" y="770" width="1" height="3" fill="#000"/>
<rect x="1288" y="770" width="1" height="3" fill="#000"/>
<rect x="1352" y="770" width="1" height="3" fill="#000"/>
<rect x="1416" y="770" width="1" height="3" fill="#000"/>
<rect x="1480" y="770" width="1" height="3" fill="#000"/>
<rect x="1544" y="770" width="1" height="3" fill="#000"/>
<rect x="1608" y="770" width="1" height="3" fill="#000"/>
</g>
<text x="1694.3" y="526.0" font-size="10.2" fill="#000" stroke="#000" stroke-width="0.25" textLength="32.4" lengthAdjust="spacingAndGlyphs">1508.90</text>
<text x="1694.3" y="493.0" font-size="10.2" fill="#000" stroke="#000" stroke-width="0.25" textLength="32.4" lengthAdjust="spacingAndGlyphs">1516.10</text>
<text x="1694.3" y="460.0" font-size="10.2" fill="#000" stroke="#000" stroke-width="0.25" textLength="32.4" lengthAdjust="spacingAndGlyphs">1523.30</text>
<text x="1694.3" y="394.0" font-size="10.2" fill="#000" stroke="#000" stroke-width="0.25" textLength="32.4" lengthAdjust="spacingAndGlyphs">1537.90</text>
<text x="1694.3" y="361.0" font-size="10.2" fill="#000" stroke="#000" stroke-width="0.25" textLength="32.4" lengthAdjust="spacingAndGlyphs">1545.10</text>
<text x="1694.3" y="328.0" font-size="10.2" fill="#000" stroke="#000" stroke-width="0.25" textLength="32.4" lengthAdjust="spacingAndGlyphs">1552.30</text>
<text x="1694.3" y="295.0" font-size="10.2" fill="#000" stroke="#000" stroke-width="0.25" textLength="32.4" lengthAdjust="spacingAndGlyphs">1559.70</text>
<text x="1694.3" y="262.0" font-size="10.2" fill="#000" stroke="#000" stroke-width="0.25" textLength="32.4" lengthAdjust="spacingAndGlyphs">1566.90</text>
<text x="1694.3" y="229.0" font-size="10.2" fill="#000" stroke="#000" stroke-width="0.25" textLength="32.4" lengthAdjust="spacingAndGlyphs">1574.10</text>
<text x="1694.3" y="196.0" font-size="10.2" fill="#000" stroke="#000" stroke-width="0.25" textLength="32.4" lengthAdjust="spacingAndGlyphs">1581.50</text>
<text x="1694.3" y="163.0" font-size="10.2" fill="#000" stroke="#000" stroke-width="0.25" textLength="32.4" lengthAdjust="spacingAndGlyphs">1588.70</text>
<text x="1694.3" y="130.0" font-size="10.2" fill="#000" stroke="#000" stroke-width="0.25" textLength="32.4" lengthAdjust="spacingAndGlyphs">1595.90</text>
<text x="1694.3" y="97.0" font-size="10.2" fill="#000" stroke="#000" stroke-width="0.25" textLength="32.4" lengthAdjust="spacingAndGlyphs">1603.30</text>
<text x="1694.3" y="64.0" font-size="10.2" fill="#000" stroke="#000" stroke-width="0.25" textLength="32.4" lengthAdjust="spacingAndGlyphs">1610.50</text>
<g shape-rendering="crispEdges"><rect x="1690" y="177" width="41" height="11" fill="#000"/>
<rect x="1690" y="215" width="41" height="11" fill="#00ff7f"/>
<rect x="1690" y="420" width="41" height="11" fill="#4169e1"/></g>
<text x="1694.3" y="186.0" font-size="10.2" fill="#fff" stroke="#fff" stroke-width="0.25" textLength="32.4" lengthAdjust="spacingAndGlyphs">1583.69</text>
<text x="1694.3" y="224.0" font-size="10.2" fill="#fff" stroke="#fff" stroke-width="0.25" textLength="32.4" lengthAdjust="spacingAndGlyphs">1575.00</text>
<text x="1694.3" y="429.0" font-size="10.2" fill="#fff" stroke="#fff" stroke-width="0.25" textLength="32.4" lengthAdjust="spacingAndGlyphs">1530.00</text>
<text x="1692.6" y="538.0" font-size="10.2" fill="#000" stroke="#000" stroke-width="0.25" textLength="27.4" lengthAdjust="spacingAndGlyphs">17.395</text>
<text x="1692.3" y="631.0" font-size="10.2" fill="#000" stroke="#000" stroke-width="0.25" textLength="18.5" lengthAdjust="spacingAndGlyphs">0.00</text>
<text x="1692.2" y="663.0" font-size="10.2" fill="#000" stroke="#000" stroke-width="0.25" textLength="25.8" lengthAdjust="spacingAndGlyphs">-6.801</text>
<text x="1691.9" y="679.0" font-size="10.2" fill="#000" stroke="#000" stroke-width="0.25" textLength="14.5" lengthAdjust="spacingAndGlyphs">100</text>
<text x="1691.9" y="703.0" font-size="10.2" fill="#000" stroke="#000" stroke-width="0.25" textLength="9.7" lengthAdjust="spacingAndGlyphs">70</text>
<text x="1691.9" y="743.0" font-size="10.2" fill="#000" stroke="#000" stroke-width="0.25" textLength="9.7" lengthAdjust="spacingAndGlyphs">30</text>
<text x="1692.3" y="766.0" font-size="10.2" fill="#000" stroke="#000" stroke-width="0.25" textLength="4.7" lengthAdjust="spacingAndGlyphs">0</text>
<path d="M11 39H18L14.5 43Z" fill="#000"/>
<text x="22.6" y="44.0" font-size="10.2" fill="#000" stroke="#000" stroke-width="0.25" textLength="57.4" lengthAdjust="spacingAndGlyphs">XAUUSD-,H4</text>
<text x="86.3" y="44.0" font-size="10.2" fill="#000" stroke="#000" stroke-width="0.25" textLength="32.4" lengthAdjust="spacingAndGlyphs">1584.32</text>
<text x="122.5" y="44.0" font-size="10.2" fill="#000" stroke="#000" stroke-width="0.25" textLength="32.4" lengthAdjust="spacingAndGlyphs">1585.47</text>
<text x="158.6" y="44.0" font-size="10.2" fill="#000" stroke="#000" stroke-width="0.25" textLength="32.4" lengthAdjust="spacingAndGlyphs">1582.34</text>
<text x="194.6" y="44.0" font-size="10.2" fill="#000" stroke="#000" stroke-width="0.25" textLength="32.4" lengthAdjust="spacingAndGlyphs">1583.69</text>
<text x="12.2" y="540.0" font-size="10.2" fill="#000" stroke="#000" stroke-width="0.25" textLength="117.8" lengthAdjust="spacingAndGlyphs">MACD(12,26,9) 3.310 3.203</text>
<text x="12.2" y="681.0" font-size="10.2" fill="#000" stroke="#000" stroke-width="0.25" textLength="67.8" lengthAdjust="spacingAndGlyphs">RSI(14) 66.5779</text>
<text x="6.8" y="782.0" font-size="10.2" fill="#000" stroke="#000" stroke-width="0.25" textLength="52.2" lengthAdjust="spacingAndGlyphs">30 Dec 2019</text>
<text x="70.8" y="782.0" font-size="10.2" fill="#000" stroke="#000" stroke-width="0.25" textLength="54.6" lengthAdjust="spacingAndGlyphs">31 Dec 20:00</text>
<text x="134.8" y="782.0" font-size="10.2" fill="#000" stroke="#000" stroke-width="0.25" textLength="47.7" lengthAdjust="spacingAndGlyphs">3 Jan 00:00</text>
<text x="198.8" y="782.0" font-size="10.2" fill="#000" stroke="#000" stroke-width="0.25" textLength="47.7" lengthAdjust="spacingAndGlyphs">6 Jan 08:00</text>
<text x="262.8" y="782.0" font-size="10.2" fill="#000" stroke="#000" stroke-width="0.25" textLength="47.7" lengthAdjust="spacingAndGlyphs">7 Jan 16:00</text>
<text x="326.8" y="782.0" font-size="10.2" fill="#000" stroke="#000" stroke-width="0.25" textLength="47.7" lengthAdjust="spacingAndGlyphs">9 Jan 00:00</text>
<text x="390.8" y="782.0" font-size="10.2" fill="#000" stroke="#000" stroke-width="0.25" textLength="54.6" lengthAdjust="spacingAndGlyphs">10 Jan 08:00</text>
<text x="454.8" y="782.0" font-size="10.2" fill="#000" stroke="#000" stroke-width="0.25" textLength="54.6" lengthAdjust="spacingAndGlyphs">13 Jan 16:00</text>
<text x="518.8" y="782.0" font-size="10.2" fill="#000" stroke="#000" stroke-width="0.25" textLength="54.6" lengthAdjust="spacingAndGlyphs">15 Jan 00:00</text>
<text x="582.8" y="782.0" font-size="10.2" fill="#000" stroke="#000" stroke-width="0.25" textLength="54.6" lengthAdjust="spacingAndGlyphs">16 Jan 08:00</text>
<text x="646.8" y="782.0" font-size="10.2" fill="#000" stroke="#000" stroke-width="0.25" textLength="54.6" lengthAdjust="spacingAndGlyphs">17 Jan 16:00</text>
<text x="710.8" y="782.0" font-size="10.2" fill="#000" stroke="#000" stroke-width="0.25" textLength="54.6" lengthAdjust="spacingAndGlyphs">21 Jan 00:00</text>
<text x="774.8" y="782.0" font-size="10.2" fill="#000" stroke="#000" stroke-width="0.25" textLength="54.6" lengthAdjust="spacingAndGlyphs">22 Jan 08:00</text>
<text x="838.8" y="782.0" font-size="10.2" fill="#000" stroke="#000" stroke-width="0.25" textLength="54.6" lengthAdjust="spacingAndGlyphs">23 Jan 16:00</text>
<text x="902.8" y="782.0" font-size="10.2" fill="#000" stroke="#000" stroke-width="0.25" textLength="54.6" lengthAdjust="spacingAndGlyphs">27 Jan 00:00</text>
<text x="966.8" y="782.0" font-size="10.2" fill="#000" stroke="#000" stroke-width="0.25" textLength="54.6" lengthAdjust="spacingAndGlyphs">28 Jan 08:00</text>
<text x="1030.8" y="782.0" font-size="10.2" fill="#000" stroke="#000" stroke-width="0.25" textLength="54.6" lengthAdjust="spacingAndGlyphs">29 Jan 16:00</text>
<text x="1094.8" y="782.0" font-size="10.2" fill="#000" stroke="#000" stroke-width="0.25" textLength="54.6" lengthAdjust="spacingAndGlyphs">31 Jan 00:00</text>
<text x="1158.8" y="782.0" font-size="10.2" fill="#000" stroke="#000" stroke-width="0.25" textLength="47.7" lengthAdjust="spacingAndGlyphs">3 Feb 08:00</text>
<text x="1222.8" y="782.0" font-size="10.2" fill="#000" stroke="#000" stroke-width="0.25" textLength="47.7" lengthAdjust="spacingAndGlyphs">4 Feb 16:00</text>
<text x="1286.8" y="782.0" font-size="10.2" fill="#000" stroke="#000" stroke-width="0.25" textLength="47.7" lengthAdjust="spacingAndGlyphs">6 Feb 00:00</text>
<text x="1350.8" y="782.0" font-size="10.2" fill="#000" stroke="#000" stroke-width="0.25" textLength="47.7" lengthAdjust="spacingAndGlyphs">7 Feb 08:00</text>
<text x="1414.8" y="782.0" font-size="10.2" fill="#000" stroke="#000" stroke-width="0.25" textLength="54.6" lengthAdjust="spacingAndGlyphs">10 Feb 16:00</text>
<text x="1478.8" y="782.0" font-size="10.2" fill="#000" stroke="#000" stroke-width="0.25" textLength="54.6" lengthAdjust="spacingAndGlyphs">12 Feb 00:00</text>
<text x="1542.8" y="782.0" font-size="10.2" fill="#000" stroke="#000" stroke-width="0.25" textLength="54.6" lengthAdjust="spacingAndGlyphs">13 Feb 08:00</text>
<text x="1606.8" y="782.0" font-size="10.2" fill="#000" stroke="#000" stroke-width="0.25" textLength="54.6" lengthAdjust="spacingAndGlyphs">14 Feb 16:00</text>
<text class="cjk" x="1270" y="110.2" font-size="33.4" fill="#ff1800" textLength="163" lengthAdjust="spacingAndGlyphs">多空转折点</text>
<text class="cjk" x="1432.5" y="109" font-size="33.5" fill="#ff1800" textLength="74.6" lengthAdjust="spacingAndGlyphs">1575</text>
</svg></body></html>
